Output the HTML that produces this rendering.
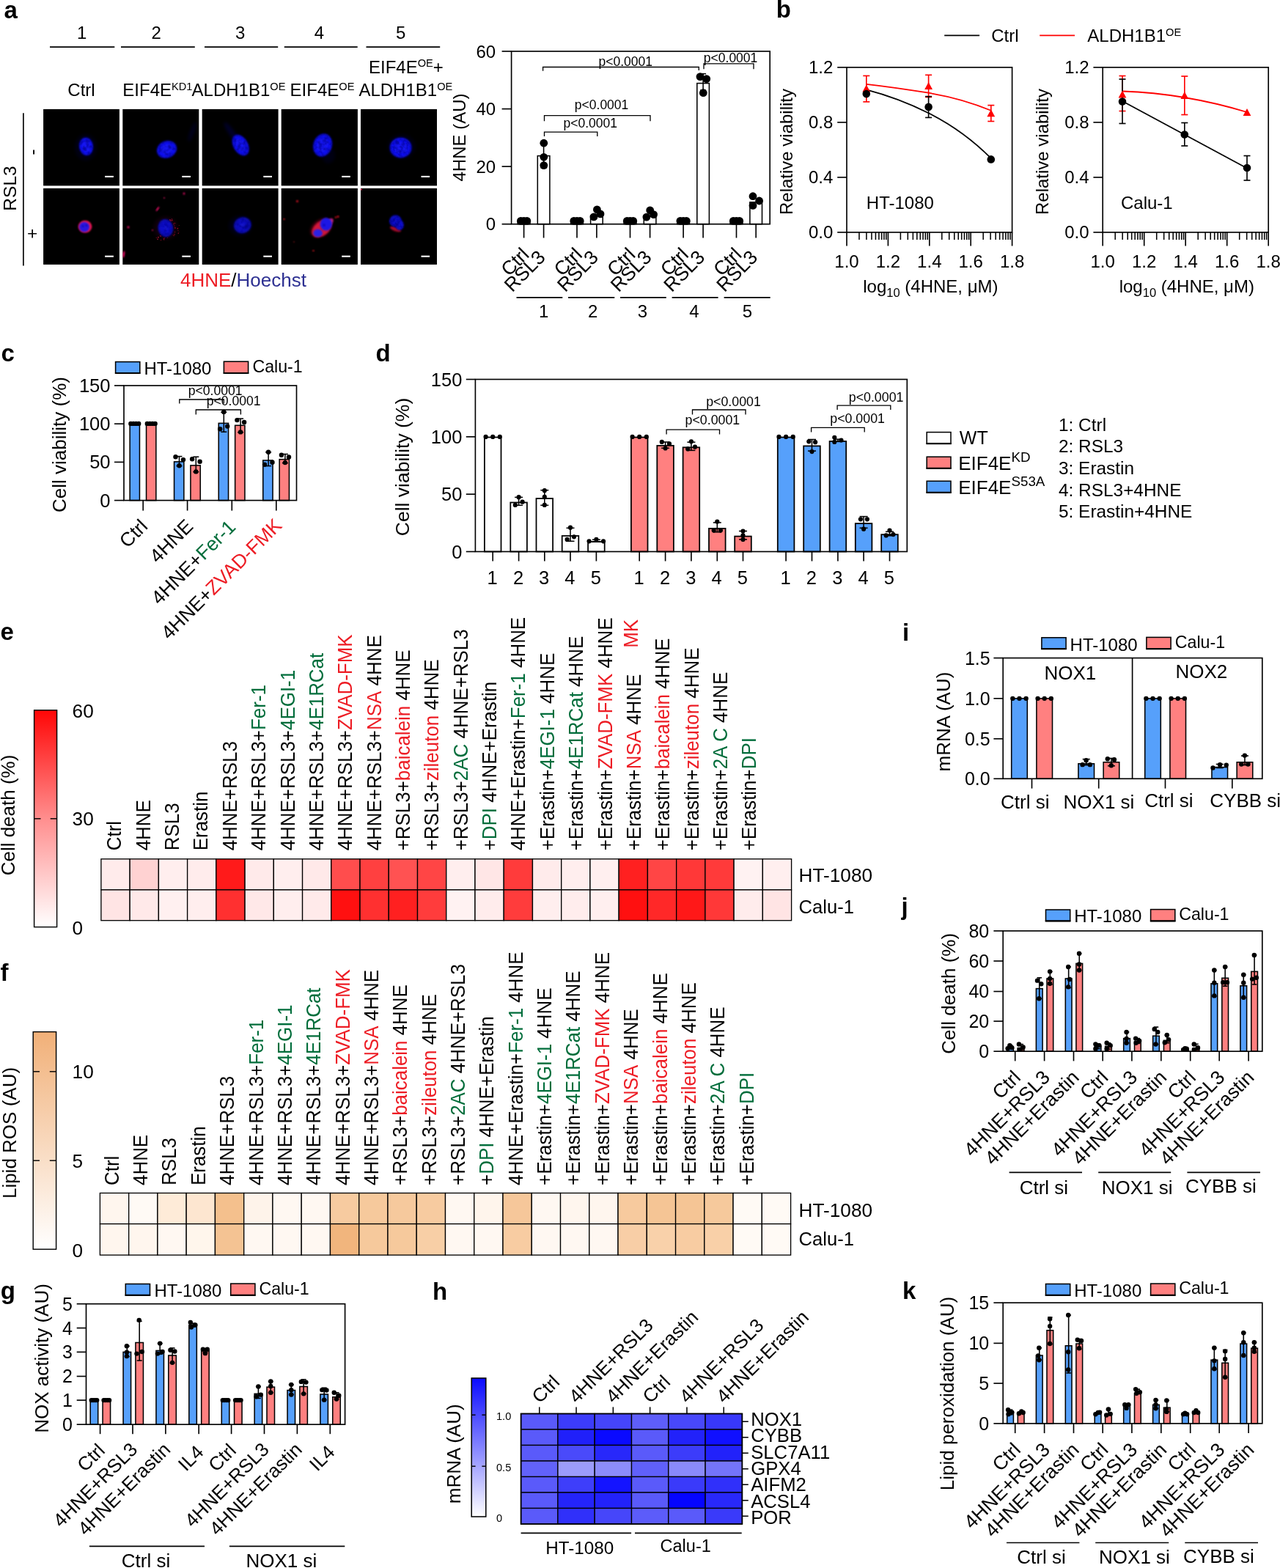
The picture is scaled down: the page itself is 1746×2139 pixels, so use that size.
<!DOCTYPE html>
<html lang="en"><head><meta charset="utf-8"><title>Figure</title>
<style>
html,body{margin:0;padding:0;background:#fff;}
body{width:1746px;height:2139px;overflow:hidden;}
svg{display:block;font-family:"Liberation Sans", sans-serif;}
text{font-family:"Liberation Sans", sans-serif;white-space:pre;}
</style></head><body>
<svg width="1746" height="2139" viewBox="0 0 1746 2139">
<rect x="0" y="0" width="1746" height="2139" fill="#fff"/>
<g id="pa">
<text x="5.5" y="24.6" font-size="33" font-weight="bold">a</text>
<text x="111.7" y="52.8" font-size="24" text-anchor="middle">1</text>
<text x="213.2" y="52.8" font-size="24" text-anchor="middle">2</text>
<text x="327.8" y="52.8" font-size="24" text-anchor="middle">3</text>
<text x="435.5" y="52.8" font-size="24" text-anchor="middle">4</text>
<text x="546.8" y="52.8" font-size="24" text-anchor="middle">5</text>
<line x1="68" y1="64.1" x2="156.3" y2="64.1" stroke="#000" stroke-width="1.87"/>
<line x1="165" y1="64.1" x2="265.8" y2="64.1" stroke="#000" stroke-width="1.87"/>
<line x1="279" y1="64.1" x2="379.2" y2="64.1" stroke="#000" stroke-width="1.87"/>
<line x1="387.8" y1="64.1" x2="487.7" y2="64.1" stroke="#000" stroke-width="1.87"/>
<line x1="499.5" y1="64.1" x2="600.2" y2="64.1" stroke="#000" stroke-width="1.87"/>
<text x="111" y="131.2" font-size="24" text-anchor="middle">Ctrl</text>
<text x="167.3" y="131.2" font-size="24">EIF4E<tspan font-size="14.6" dy="-8.3">KD1</tspan><tspan dy="8.3" font-size="1">&#8203;</tspan></text>
<text x="261.6" y="131.2" font-size="24">ALDH1B1<tspan font-size="14.6" dy="-8.3">OE</tspan><tspan dy="8.3" font-size="1">&#8203;</tspan></text>
<text x="395.6" y="131.2" font-size="24">EIF4E<tspan font-size="14.6" dy="-8.3">OE</tspan><tspan dy="8.3" font-size="1">&#8203;</tspan></text>
<text x="503" y="99.6" font-size="24">EIF4E<tspan font-size="14.6" dy="-8.3">OE</tspan><tspan dy="8.3" font-size="1">&#8203;</tspan>+</text>
<text x="489.4" y="131.2" font-size="24">ALDH1B1<tspan font-size="14.6" dy="-8.3">OE</tspan><tspan dy="8.3" font-size="1">&#8203;</tspan></text>
<text font-size="24.5" text-anchor="middle" transform="translate(21.6 257) rotate(-90)">RSL3</text>
<line x1="31.9" y1="154.3" x2="31.9" y2="362.4" stroke="#000" stroke-width="1.65"/>
<text font-size="24" text-anchor="middle" transform="translate(51.5 207.5) rotate(-90)">-</text>
<text font-size="24" text-anchor="middle" transform="translate(52.3 318.7) rotate(-90)">+</text>
<text x="246" y="390.5" font-size="26"><tspan fill="#ED1C24">4HNE</tspan>/<tspan fill="#2E3192">Hoechst</tspan></text>
<defs><radialGradient id="nb" cx="50%" cy="50%" r="50%"><stop offset="0" stop-color="#1616f4"/><stop offset="0.8" stop-color="#1010ec"/><stop offset="1" stop-color="#0808c0"/></radialGradient><radialGradient id="nd" cx="50%" cy="50%" r="50%"><stop offset="0" stop-color="#1414d4"/><stop offset="0.8" stop-color="#0c0cc0"/><stop offset="1" stop-color="#060690"/></radialGradient><radialGradient id="rc" cx="50%" cy="50%" r="50%"><stop offset="0" stop-color="#ff1040"/><stop offset="0.7" stop-color="#e0103a" stop-opacity="0.9"/><stop offset="1" stop-color="#a00020" stop-opacity="0"/></radialGradient><filter id="bl" x="-30%" y="-30%" width="160%" height="160%"><feGaussianBlur stdDeviation="0.9"/></filter><filter id="bl2" x="-50%" y="-50%" width="200%" height="200%"><feGaussianBlur stdDeviation="2.2"/></filter><filter id="tx" x="0" y="0" width="100%" height="100%"><feTurbulence type="fractalNoise" baseFrequency="0.22" numOctaves="2" seed="7" result="n"/><feColorMatrix in="n" type="matrix" values="0 0 0 0 0  0 0 0 0 0  0 0 0 0 0.25  2.6 0 0 0 -1.0" result="a"/><feComposite in="a" in2="SourceGraphic" operator="in"/><feGaussianBlur stdDeviation="0.5"/></filter></defs>
<rect x="59.1" y="148.9" width="103.8" height="104.5" fill="#000"/>
<rect x="167.3" y="148.9" width="104" height="104.5" fill="#000"/>
<rect x="275.7" y="148.9" width="103.9" height="104.5" fill="#000"/>
<rect x="383.7" y="148.9" width="104.2" height="104.5" fill="#000"/>
<rect x="492" y="148.9" width="104" height="104.5" fill="#000"/>
<rect x="59.1" y="256.9" width="103.8" height="104" fill="#000"/>
<rect x="167.3" y="256.9" width="104" height="104" fill="#000"/>
<rect x="275.7" y="256.9" width="103.9" height="104" fill="#000"/>
<rect x="383.7" y="256.9" width="104.2" height="104" fill="#000"/>
<rect x="492" y="256.9" width="104" height="104" fill="#000"/>
<clipPath id="c00"><rect x="59.1" y="148.9" width="103.8" height="104.5"/></clipPath>
<clipPath id="c01"><rect x="59.1" y="256.9" width="103.8" height="104"/></clipPath>
<clipPath id="c10"><rect x="167.3" y="148.9" width="104" height="104.5"/></clipPath>
<clipPath id="c11"><rect x="167.3" y="256.9" width="104" height="104"/></clipPath>
<clipPath id="c20"><rect x="275.7" y="148.9" width="103.9" height="104.5"/></clipPath>
<clipPath id="c21"><rect x="275.7" y="256.9" width="103.9" height="104"/></clipPath>
<clipPath id="c30"><rect x="383.7" y="148.9" width="104.2" height="104.5"/></clipPath>
<clipPath id="c31"><rect x="383.7" y="256.9" width="104.2" height="104"/></clipPath>
<clipPath id="c40"><rect x="492" y="148.9" width="104" height="104.5"/></clipPath>
<clipPath id="c41"><rect x="492" y="256.9" width="104" height="104"/></clipPath>
<g clip-path="url(#c00)">
<ellipse cx="117" cy="201" rx="15" ry="18" fill="#000090" opacity="0.13" filter="url(#bl2)" transform="rotate(0 117 201)"/>
<ellipse cx="117.5" cy="199.7" rx="9.6" ry="12.3" fill="url(#nb)" opacity="1" filter="url(#bl)" transform="rotate(-8 117.5 199.7)"/>
<ellipse cx="117.5" cy="199.7" rx="9.1" ry="11.8" fill="#000" opacity="0.55" filter="url(#tx)" transform="rotate(-8 117.5 199.7)"/>
<circle cx="115" cy="203" r="2" fill="#000090" opacity="0.6" filter="url(#bl)"/>
<circle cx="120" cy="197" r="1.6" fill="#000090" opacity="0.6" filter="url(#bl)"/>
</g>
<g clip-path="url(#c10)">
<ellipse cx="262" cy="180" rx="3" ry="14" fill="#000080" opacity="0.22" filter="url(#bl2)" transform="rotate(20 262 180)"/>
<ellipse cx="227.5" cy="203.9" rx="14" ry="11.6" fill="url(#nb)" opacity="1" filter="url(#bl)" transform="rotate(-22 227.5 203.9)"/>
<ellipse cx="227.5" cy="203.9" rx="13.5" ry="11.1" fill="#000" opacity="0.55" filter="url(#tx)" transform="rotate(-22 227.5 203.9)"/>
<circle cx="232" cy="201" r="2.2" fill="#000090" opacity="0.6" filter="url(#bl)"/>
</g>
<g clip-path="url(#c20)">
<ellipse cx="316" cy="181" rx="4" ry="17" fill="#000090" opacity="0.28" filter="url(#bl2)" transform="rotate(-35 316 181)"/>
<ellipse cx="328.2" cy="198" rx="10" ry="15.5" fill="url(#nb)" opacity="1" filter="url(#bl)" transform="rotate(-30 328.2 198)"/>
<ellipse cx="328.2" cy="198" rx="9.5" ry="15" fill="#000" opacity="0.55" filter="url(#tx)" transform="rotate(-30 328.2 198)"/>
<circle cx="326" cy="200" r="2.2" fill="#000090" opacity="0.6" filter="url(#bl)"/>
<circle cx="331" cy="202.5" r="2" fill="#000090" opacity="0.6" filter="url(#bl)"/>
</g>
<g clip-path="url(#c30)">
<ellipse cx="448" cy="212" rx="9" ry="11" fill="#000080" opacity="0.14" filter="url(#bl2)" transform="rotate(0 448 212)"/>
<ellipse cx="440.1" cy="198" rx="12.8" ry="16" fill="url(#nb)" opacity="1" filter="url(#bl)" transform="rotate(18 440.1 198)"/>
<ellipse cx="440.1" cy="198" rx="12.3" ry="15.5" fill="#000" opacity="0.55" filter="url(#tx)" transform="rotate(18 440.1 198)"/>
<circle cx="442" cy="192" r="2.2" fill="#000090" opacity="0.6" filter="url(#bl)"/>
<circle cx="437" cy="197" r="1.8" fill="#000090" opacity="0.6" filter="url(#bl)"/>
</g>
<g clip-path="url(#c40)">
<ellipse cx="548" cy="200" rx="19" ry="17" fill="#000080" opacity="0.13" filter="url(#bl2)" transform="rotate(0 548 200)"/>
<ellipse cx="546.6" cy="201.4" rx="15" ry="14" fill="url(#nb)" opacity="1" filter="url(#bl)" transform="rotate(0 546.6 201.4)"/>
<ellipse cx="546.6" cy="201.4" rx="14.5" ry="13.5" fill="#000" opacity="0.55" filter="url(#tx)" transform="rotate(0 546.6 201.4)"/>
<circle cx="541" cy="195" r="2.4" fill="#000090" opacity="0.6" filter="url(#bl)"/>
<circle cx="550" cy="197" r="2.4" fill="#000090" opacity="0.6" filter="url(#bl)"/>
<circle cx="546" cy="207" r="2" fill="#000090" opacity="0.6" filter="url(#bl)"/>
</g>
<g clip-path="url(#c01)">
<ellipse cx="116" cy="309.2" rx="9.3" ry="8.4" fill="#f01850" filter="url(#bl)"/>
<ellipse cx="115" cy="309.6" rx="7.2" ry="6.9" fill="#2a14e0" filter="url(#bl)"/>
<circle cx="113" cy="308.5" r="1.3" fill="#000090" opacity="0.7" filter="url(#bl)"/>
<circle cx="118" cy="307.5" r="1.3" fill="#000090" opacity="0.7" filter="url(#bl)"/>
</g>
<g clip-path="url(#c11)">
<ellipse cx="226" cy="311" rx="17" ry="16" fill="#300020" opacity="0.3" filter="url(#bl2)" transform="rotate(0 226 311)"/>
<ellipse cx="225.8" cy="311.1" rx="10.4" ry="12.3" fill="url(#nd)" opacity="1" filter="url(#bl)" transform="rotate(-10 225.8 311.1)"/>
<ellipse cx="225.8" cy="311.1" rx="9.9" ry="11.8" fill="#000" opacity="0.55" filter="url(#tx)" transform="rotate(-10 225.8 311.1)"/>
<circle cx="226" cy="306" r="1.8" fill="#000090" opacity="0.6" filter="url(#bl)"/>
<circle cx="232" cy="315" r="1.8" fill="#000090" opacity="0.6" filter="url(#bl)"/>
<circle cx="238.2" cy="308.37" r="0.7" fill="#d01038" opacity="0.37"/>
<circle cx="234.65" cy="300.55" r="0.96" fill="#d01038" opacity="0.66"/>
<circle cx="224.15" cy="324.82" r="0.77" fill="#d01038" opacity="0.42"/>
<circle cx="236.95" cy="305.69" r="0.61" fill="#d01038" opacity="0.72"/>
<circle cx="219.49" cy="327.55" r="0.9" fill="#d01038" opacity="0.39"/>
<circle cx="242.35" cy="311.65" r="0.87" fill="#d01038" opacity="0.68"/>
<circle cx="219.13" cy="322.13" r="0.8" fill="#d01038" opacity="0.6"/>
<circle cx="235.97" cy="320.37" r="0.74" fill="#d01038" opacity="0.34"/>
<circle cx="213.35" cy="324.17" r="0.77" fill="#d01038" opacity="0.44"/>
<circle cx="215.91" cy="323.81" r="0.94" fill="#d01038" opacity="0.68"/>
<circle cx="237.09" cy="321.48" r="0.8" fill="#d01038" opacity="0.49"/>
<circle cx="237.79" cy="304.53" r="0.91" fill="#d01038" opacity="0.32"/>
<circle cx="234.5" cy="298.7" r="0.64" fill="#d01038" opacity="0.54"/>
<circle cx="237.97" cy="319.65" r="1" fill="#d01038" opacity="0.39"/>
<circle cx="238.55" cy="316.62" r="0.82" fill="#d01038" opacity="0.42"/>
<circle cx="242.97" cy="314.48" r="0.66" fill="#d01038" opacity="0.55"/>
<circle cx="218.12" cy="321.56" r="0.53" fill="#d01038" opacity="0.4"/>
<circle cx="223.78" cy="327.36" r="0.62" fill="#d01038" opacity="0.45"/>
<circle cx="239.16" cy="304.74" r="0.52" fill="#d01038" opacity="0.61"/>
<circle cx="214.99" cy="326.27" r="0.87" fill="#d01038" opacity="0.73"/>
<circle cx="231.98" cy="299.9" r="0.98" fill="#d01038" opacity="0.65"/>
<circle cx="243.33" cy="318.2" r="0.81" fill="#d01038" opacity="0.67"/>
<circle cx="239.33" cy="310.92" r="0.72" fill="#d01038" opacity="0.36"/>
<circle cx="244.06" cy="316.4" r="0.67" fill="#d01038" opacity="0.3"/>
<circle cx="232.81" cy="301.2" r="0.89" fill="#d01038" opacity="0.46"/>
<circle cx="238.68" cy="310.83" r="0.99" fill="#d01038" opacity="0.49"/>
<circle cx="237.45" cy="307.26" r="0.53" fill="#d01038" opacity="0.38"/>
<circle cx="228.59" cy="324.23" r="0.52" fill="#d01038" opacity="0.52"/>
<circle cx="244.28" cy="307.49" r="0.56" fill="#d01038" opacity="0.54"/>
<circle cx="223.49" cy="325.96" r="0.99" fill="#d01038" opacity="0.51"/>
<ellipse cx="175" cy="310" rx="1.6" ry="1.4" fill="#ff1070" opacity="0.9" filter="url(#bl)" transform="rotate(0 175 310)"/>
<ellipse cx="215" cy="285" rx="1.2" ry="3.5" fill="#ff1070" opacity="0.9" filter="url(#bl)" transform="rotate(35 215 285)"/>
<ellipse cx="251" cy="264" rx="1.3" ry="1.5" fill="#ff1070" opacity="0.9" filter="url(#bl)" transform="rotate(0 251 264)"/>
<ellipse cx="224" cy="270" rx="1" ry="1" fill="#ff1070" opacity="0.9" filter="url(#bl)" transform="rotate(0 224 270)"/>
<ellipse cx="168.5" cy="347" rx="1.6" ry="4.5" fill="#ff1070" opacity="0.9" filter="url(#bl)" transform="rotate(10 168.5 347)"/>
<ellipse cx="208" cy="314" rx="1" ry="1" fill="#ff1070" opacity="0.9" filter="url(#bl)" transform="rotate(0 208 314)"/>
</g>
<g clip-path="url(#c21)">
<ellipse cx="328" cy="308" rx="16" ry="14" fill="#000070" opacity="0.16" filter="url(#bl2)" transform="rotate(0 328 308)"/>
<ellipse cx="330.8" cy="307.3" rx="12.2" ry="11" fill="url(#nd)" opacity="0.95" filter="url(#bl)" transform="rotate(-20 330.8 307.3)"/>
<ellipse cx="330.8" cy="307.3" rx="11.7" ry="10.5" fill="#000" opacity="0.55" filter="url(#tx)" transform="rotate(-20 330.8 307.3)"/>
<circle cx="336" cy="309" r="2.6" fill="#000070" opacity="0.6" filter="url(#bl)"/>
</g>
<g clip-path="url(#c31)">
<ellipse cx="438" cy="311" rx="15" ry="10" fill="#e00030" opacity="0.6" filter="url(#bl2)" transform="rotate(-35 438 311)"/>
<ellipse cx="438.8" cy="311.8" rx="15" ry="9.6" fill="#e01c40" opacity="0.85" filter="url(#bl)" transform="rotate(-38 438.8 311.8)"/>
<ellipse cx="450" cy="303" rx="6" ry="3.5" fill="#ff30a0" opacity="0.8" filter="url(#bl)" transform="rotate(-50 450 303)"/>
<ellipse cx="444.8" cy="305.8" rx="8.2" ry="8.8" fill="#1c18e4" filter="url(#bl)"/>
<ellipse cx="433.6" cy="317.9" rx="6.3" ry="5.3" fill="#2c20e4" filter="url(#bl)"/>
<circle cx="442" cy="307" r="1.6" fill="#0000a0" opacity="0.7" filter="url(#bl)"/>
<circle cx="405.5" cy="274.5" r="1.6" fill="#e01020" opacity="0.9" filter="url(#bl)"/>
<circle cx="461" cy="295.5" r="1.5" fill="#e01020" opacity="0.9" filter="url(#bl)"/>
<circle cx="387.5" cy="299" r="1.2" fill="#e01020" opacity="0.9" filter="url(#bl)"/>
<circle cx="427.5" cy="342" r="1.2" fill="#e01020" opacity="0.9" filter="url(#bl)"/>
<circle cx="458" cy="296.5" r="1.3" fill="#e01020" opacity="0.9" filter="url(#bl)"/>
<circle cx="401" cy="330" r="0.8" fill="#e01020" opacity="0.9" filter="url(#bl)"/>
</g>
<g clip-path="url(#c41)">
<ellipse cx="539.5" cy="312.5" rx="8" ry="3" fill="#d01030" opacity="0.8" filter="url(#bl)" transform="rotate(20 539.5 312.5)"/>
<ellipse cx="539.5" cy="301.5" rx="8.6" ry="8.3" fill="url(#nd)" opacity="1" filter="url(#bl)" transform="rotate(0 539.5 301.5)"/>
<ellipse cx="539.5" cy="301.5" rx="8.1" ry="7.8" fill="#000" opacity="0.55" filter="url(#tx)" transform="rotate(0 539.5 301.5)"/>
<ellipse cx="545" cy="307" rx="6" ry="7" fill="url(#nd)" opacity="1" filter="url(#bl)" transform="rotate(0 545 307)"/>
<ellipse cx="545" cy="307" rx="5.5" ry="6.5" fill="#000" opacity="0.55" filter="url(#tx)" transform="rotate(0 545 307)"/>
<circle cx="542" cy="306.5" r="2.3" fill="#000080" opacity="0.6" filter="url(#bl)"/>
<circle cx="537" cy="300" r="1.5" fill="#000080" opacity="0.6" filter="url(#bl)"/>
<circle cx="493" cy="258.5" r="1" fill="#ff1060"/>
</g>
<line x1="143.1" y1="240.9" x2="154.9" y2="240.9" stroke="#fff" stroke-width="2.09"/>
<line x1="143.1" y1="349.7" x2="154.9" y2="349.7" stroke="#fff" stroke-width="2.09"/>
<line x1="248.3" y1="240.9" x2="260" y2="240.9" stroke="#fff" stroke-width="2.09"/>
<line x1="248.3" y1="349.7" x2="260" y2="349.7" stroke="#fff" stroke-width="2.09"/>
<line x1="359.3" y1="240.9" x2="371" y2="240.9" stroke="#fff" stroke-width="2.09"/>
<line x1="359.3" y1="349.7" x2="371" y2="349.7" stroke="#fff" stroke-width="2.09"/>
<line x1="466.2" y1="240.9" x2="477.8" y2="240.9" stroke="#fff" stroke-width="2.09"/>
<line x1="466.2" y1="349.7" x2="477.8" y2="349.7" stroke="#fff" stroke-width="2.09"/>
<line x1="574.5" y1="240.9" x2="586.1" y2="240.9" stroke="#fff" stroke-width="2.09"/>
<line x1="574.5" y1="349.7" x2="586.1" y2="349.7" stroke="#fff" stroke-width="2.09"/>
</g>
<g id="pabar">
<rect x="706.3" y="301.77" width="16.6" height="3.93" fill="#fff" stroke="#000" stroke-width="1.54"/>
<rect x="733.3" y="212.6" width="16.6" height="93.1" fill="#fff" stroke="#000" stroke-width="1.54"/>
<rect x="778.7" y="301.77" width="16.6" height="3.93" fill="#fff" stroke="#000" stroke-width="1.54"/>
<rect x="805.6" y="294.31" width="16.6" height="11.39" fill="#fff" stroke="#000" stroke-width="1.54"/>
<rect x="851.2" y="301.77" width="16.6" height="3.93" fill="#fff" stroke="#000" stroke-width="1.54"/>
<rect x="878.3" y="295.09" width="16.6" height="10.61" fill="#fff" stroke="#000" stroke-width="1.54"/>
<rect x="923.8" y="301.77" width="16.6" height="3.93" fill="#fff" stroke="#000" stroke-width="1.54"/>
<rect x="950.8" y="113.6" width="16.6" height="192.1" fill="#fff" stroke="#000" stroke-width="1.54"/>
<rect x="996.2" y="301.77" width="16.6" height="3.93" fill="#fff" stroke="#000" stroke-width="1.54"/>
<rect x="1022.9" y="275.84" width="16.6" height="29.86" fill="#fff" stroke="#000" stroke-width="1.54"/>
<rect x="697.6" y="70" width="352.6" height="235.7" fill="none" stroke="#000" stroke-width="1.65"/>
<line x1="741.6" y1="196.49" x2="741.6" y2="229.1" stroke="#000" stroke-width="1.54"/>
<line x1="737.6" y1="196.49" x2="745.6" y2="196.49" stroke="#000" stroke-width="1.54"/>
<line x1="737.6" y1="229.1" x2="745.6" y2="229.1" stroke="#000" stroke-width="1.54"/>
<line x1="959.1" y1="100.64" x2="959.1" y2="123.03" stroke="#000" stroke-width="1.54"/>
<line x1="955.1" y1="100.64" x2="963.1" y2="100.64" stroke="#000" stroke-width="1.54"/>
<line x1="955.1" y1="123.03" x2="963.1" y2="123.03" stroke="#000" stroke-width="1.54"/>
<line x1="684.6" y1="305.7" x2="697.6" y2="305.7" stroke="#000" stroke-width="1.65"/>
<text x="676.1" y="314.3" font-size="24" text-anchor="end">0</text>
<line x1="684.6" y1="227.13" x2="697.6" y2="227.13" stroke="#000" stroke-width="1.65"/>
<text x="676.1" y="235.73" font-size="24" text-anchor="end">20</text>
<line x1="684.6" y1="148.57" x2="697.6" y2="148.57" stroke="#000" stroke-width="1.65"/>
<text x="676.1" y="157.17" font-size="24" text-anchor="end">40</text>
<line x1="684.6" y1="70" x2="697.6" y2="70" stroke="#000" stroke-width="1.65"/>
<text x="676.1" y="78.6" font-size="24" text-anchor="end">60</text>
<line x1="714.6" y1="305.7" x2="714.6" y2="324.5" stroke="#000" stroke-width="1.65"/>
<line x1="741.6" y1="305.7" x2="741.6" y2="324.5" stroke="#000" stroke-width="1.65"/>
<line x1="787" y1="305.7" x2="787" y2="324.5" stroke="#000" stroke-width="1.65"/>
<line x1="813.9" y1="305.7" x2="813.9" y2="324.5" stroke="#000" stroke-width="1.65"/>
<line x1="859.5" y1="305.7" x2="859.5" y2="324.5" stroke="#000" stroke-width="1.65"/>
<line x1="886.6" y1="305.7" x2="886.6" y2="324.5" stroke="#000" stroke-width="1.65"/>
<line x1="932.1" y1="305.7" x2="932.1" y2="324.5" stroke="#000" stroke-width="1.65"/>
<line x1="959.1" y1="305.7" x2="959.1" y2="324.5" stroke="#000" stroke-width="1.65"/>
<line x1="1004.5" y1="305.7" x2="1004.5" y2="324.5" stroke="#000" stroke-width="1.65"/>
<line x1="1031.2" y1="305.7" x2="1031.2" y2="324.5" stroke="#000" stroke-width="1.65"/>
<circle cx="710.4" cy="301.4" r="5.4" fill="#000"/>
<circle cx="714.6" cy="301.4" r="5.4" fill="#000"/>
<circle cx="718.8" cy="301.4" r="5.4" fill="#000"/>
<circle cx="782.8" cy="301.4" r="5.4" fill="#000"/>
<circle cx="787" cy="301.4" r="5.4" fill="#000"/>
<circle cx="791.2" cy="301.4" r="5.4" fill="#000"/>
<circle cx="855.3" cy="301.4" r="5.4" fill="#000"/>
<circle cx="859.5" cy="301.4" r="5.4" fill="#000"/>
<circle cx="863.7" cy="301.4" r="5.4" fill="#000"/>
<circle cx="927.9" cy="301.4" r="5.4" fill="#000"/>
<circle cx="932.1" cy="301.4" r="5.4" fill="#000"/>
<circle cx="936.3" cy="301.4" r="5.4" fill="#000"/>
<circle cx="1000.3" cy="301.4" r="5.4" fill="#000"/>
<circle cx="1004.5" cy="301.4" r="5.4" fill="#000"/>
<circle cx="1008.7" cy="301.4" r="5.4" fill="#000"/>
<circle cx="741.8" cy="195.2" r="5.4" fill="#000"/>
<circle cx="741.8" cy="214.3" r="5.4" fill="#000"/>
<circle cx="741.8" cy="225.6" r="5.4" fill="#000"/>
<circle cx="810" cy="295.9" r="5.4" fill="#000"/>
<circle cx="814.4" cy="285.9" r="5.4" fill="#000"/>
<circle cx="819" cy="291.9" r="5.4" fill="#000"/>
<circle cx="881.9" cy="296.1" r="5.4" fill="#000"/>
<circle cx="886.7" cy="286.9" r="5.4" fill="#000"/>
<circle cx="891.6" cy="292.6" r="5.4" fill="#000"/>
<circle cx="955" cy="104.6" r="5.4" fill="#000"/>
<circle cx="963.7" cy="107.6" r="5.4" fill="#000"/>
<circle cx="959.3" cy="126.7" r="5.4" fill="#000"/>
<circle cx="1027" cy="267.7" r="5.4" fill="#000"/>
<circle cx="1035.6" cy="274" r="5.4" fill="#000"/>
<circle cx="1027" cy="280.4" r="5.4" fill="#000"/>
<path d="M740.6 96.7V91.5H953.3V96.1" stroke="#000" stroke-width="1.32" fill="none"/>
<text x="853.2" y="90.3" font-size="17.5" text-anchor="middle">p&lt;0.0001</text>
<path d="M960 94.3V86.9H1028V94.3" stroke="#000" stroke-width="1.32" fill="none"/>
<text x="996.6" y="85" font-size="17.5" text-anchor="middle">p&lt;0.0001</text>
<path d="M742.5 165.2V157.6H887V165.2" stroke="#000" stroke-width="1.32" fill="none"/>
<text x="820.6" y="149.1" font-size="17.5" text-anchor="middle">p&lt;0.0001</text>
<path d="M742.5 186V180.2H814.8V186" stroke="#000" stroke-width="1.32" fill="none"/>
<text x="805.3" y="174.4" font-size="17.5" text-anchor="middle">p&lt;0.0001</text>
<text font-size="24" text-anchor="middle" transform="translate(634.6 187.5) rotate(-90)">4HNE (AU)</text>
<text font-size="26.4" text-anchor="end" transform="translate(723.2 349) rotate(-45)">Ctrl</text>
<text font-size="26.4" text-anchor="end" transform="translate(745.4 352.7) rotate(-45)">RSL3</text>
<text font-size="26.4" text-anchor="end" transform="translate(795.6 349) rotate(-45)">Ctrl</text>
<text font-size="26.4" text-anchor="end" transform="translate(817.7 352.7) rotate(-45)">RSL3</text>
<text font-size="26.4" text-anchor="end" transform="translate(868.1 349) rotate(-45)">Ctrl</text>
<text font-size="26.4" text-anchor="end" transform="translate(890.4 352.7) rotate(-45)">RSL3</text>
<text font-size="26.4" text-anchor="end" transform="translate(940.7 349) rotate(-45)">Ctrl</text>
<text font-size="26.4" text-anchor="end" transform="translate(962.9 352.7) rotate(-45)">RSL3</text>
<text font-size="26.4" text-anchor="end" transform="translate(1013.1 349) rotate(-45)">Ctrl</text>
<text font-size="26.4" text-anchor="end" transform="translate(1035 352.7) rotate(-45)">RSL3</text>
<line x1="704.5" y1="405.9" x2="767.3" y2="405.9" stroke="#000" stroke-width="1.65"/>
<line x1="775" y1="405.9" x2="838.3" y2="405.9" stroke="#000" stroke-width="1.65"/>
<line x1="846" y1="405.9" x2="908.8" y2="405.9" stroke="#000" stroke-width="1.65"/>
<line x1="916.6" y1="405.9" x2="979.6" y2="405.9" stroke="#000" stroke-width="1.65"/>
<line x1="987.6" y1="405.9" x2="1050.7" y2="405.9" stroke="#000" stroke-width="1.65"/>
<text x="741.6" y="432.7" font-size="24" text-anchor="middle">1</text>
<text x="808.7" y="432.7" font-size="24" text-anchor="middle">2</text>
<text x="876.5" y="432.7" font-size="24" text-anchor="middle">3</text>
<text x="947" y="432.7" font-size="24" text-anchor="middle">4</text>
<text x="1019.4" y="432.7" font-size="24" text-anchor="middle">5</text>
</g>
<g id="pb">
<text x="1058.8" y="24.3" font-size="33" font-weight="bold">b</text>
<line x1="1288.2" y1="48.4" x2="1336.1" y2="48.4" stroke="#000" stroke-width="1.65"/>
<text x="1352.2" y="57.4" font-size="24">Ctrl</text>
<line x1="1418.2" y1="48.4" x2="1466" y2="48.4" stroke="#FF0000" stroke-width="1.65"/>
<text x="1483.3" y="57.4" font-size="24">ALDH1B1<tspan font-size="14.6" dy="-8.3">OE</tspan><tspan dy="8.3" font-size="1">&#8203;</tspan></text>
<line x1="1142.2" y1="316.9" x2="1155" y2="316.9" stroke="#000" stroke-width="1.65"/>
<text x="1136.4" y="324.5" font-size="24" text-anchor="end">0.0</text>
<line x1="1142.2" y1="241.9" x2="1155" y2="241.9" stroke="#000" stroke-width="1.65"/>
<text x="1136.4" y="249.5" font-size="24" text-anchor="end">0.4</text>
<line x1="1142.2" y1="166.9" x2="1155" y2="166.9" stroke="#000" stroke-width="1.65"/>
<text x="1136.4" y="174.5" font-size="24" text-anchor="end">0.8</text>
<line x1="1142.2" y1="91.9" x2="1155" y2="91.9" stroke="#000" stroke-width="1.65"/>
<text x="1136.4" y="99.5" font-size="24" text-anchor="end">1.2</text>
<line x1="1155" y1="316.9" x2="1155" y2="335.5" stroke="#000" stroke-width="1.65"/>
<line x1="1171.98" y1="316.9" x2="1171.98" y2="327.1" stroke="#000" stroke-width="1.54"/>
<line x1="1181.91" y1="316.9" x2="1181.91" y2="327.1" stroke="#000" stroke-width="1.54"/>
<line x1="1188.96" y1="316.9" x2="1188.96" y2="327.1" stroke="#000" stroke-width="1.54"/>
<line x1="1194.42" y1="316.9" x2="1194.42" y2="327.1" stroke="#000" stroke-width="1.54"/>
<line x1="1198.89" y1="316.9" x2="1198.89" y2="327.1" stroke="#000" stroke-width="1.54"/>
<line x1="1202.66" y1="316.9" x2="1202.66" y2="327.1" stroke="#000" stroke-width="1.54"/>
<line x1="1205.93" y1="316.9" x2="1205.93" y2="327.1" stroke="#000" stroke-width="1.54"/>
<line x1="1208.82" y1="316.9" x2="1208.82" y2="327.1" stroke="#000" stroke-width="1.54"/>
<line x1="1211.4" y1="316.9" x2="1211.4" y2="335.5" stroke="#000" stroke-width="1.65"/>
<line x1="1228.38" y1="316.9" x2="1228.38" y2="327.1" stroke="#000" stroke-width="1.54"/>
<line x1="1238.31" y1="316.9" x2="1238.31" y2="327.1" stroke="#000" stroke-width="1.54"/>
<line x1="1245.36" y1="316.9" x2="1245.36" y2="327.1" stroke="#000" stroke-width="1.54"/>
<line x1="1250.82" y1="316.9" x2="1250.82" y2="327.1" stroke="#000" stroke-width="1.54"/>
<line x1="1255.29" y1="316.9" x2="1255.29" y2="327.1" stroke="#000" stroke-width="1.54"/>
<line x1="1259.06" y1="316.9" x2="1259.06" y2="327.1" stroke="#000" stroke-width="1.54"/>
<line x1="1262.33" y1="316.9" x2="1262.33" y2="327.1" stroke="#000" stroke-width="1.54"/>
<line x1="1265.22" y1="316.9" x2="1265.22" y2="327.1" stroke="#000" stroke-width="1.54"/>
<line x1="1267.8" y1="316.9" x2="1267.8" y2="335.5" stroke="#000" stroke-width="1.65"/>
<line x1="1284.78" y1="316.9" x2="1284.78" y2="327.1" stroke="#000" stroke-width="1.54"/>
<line x1="1294.71" y1="316.9" x2="1294.71" y2="327.1" stroke="#000" stroke-width="1.54"/>
<line x1="1301.76" y1="316.9" x2="1301.76" y2="327.1" stroke="#000" stroke-width="1.54"/>
<line x1="1307.22" y1="316.9" x2="1307.22" y2="327.1" stroke="#000" stroke-width="1.54"/>
<line x1="1311.69" y1="316.9" x2="1311.69" y2="327.1" stroke="#000" stroke-width="1.54"/>
<line x1="1315.46" y1="316.9" x2="1315.46" y2="327.1" stroke="#000" stroke-width="1.54"/>
<line x1="1318.73" y1="316.9" x2="1318.73" y2="327.1" stroke="#000" stroke-width="1.54"/>
<line x1="1321.62" y1="316.9" x2="1321.62" y2="327.1" stroke="#000" stroke-width="1.54"/>
<line x1="1324.2" y1="316.9" x2="1324.2" y2="335.5" stroke="#000" stroke-width="1.65"/>
<line x1="1341.18" y1="316.9" x2="1341.18" y2="327.1" stroke="#000" stroke-width="1.54"/>
<line x1="1351.11" y1="316.9" x2="1351.11" y2="327.1" stroke="#000" stroke-width="1.54"/>
<line x1="1358.16" y1="316.9" x2="1358.16" y2="327.1" stroke="#000" stroke-width="1.54"/>
<line x1="1363.62" y1="316.9" x2="1363.62" y2="327.1" stroke="#000" stroke-width="1.54"/>
<line x1="1368.09" y1="316.9" x2="1368.09" y2="327.1" stroke="#000" stroke-width="1.54"/>
<line x1="1371.86" y1="316.9" x2="1371.86" y2="327.1" stroke="#000" stroke-width="1.54"/>
<line x1="1375.13" y1="316.9" x2="1375.13" y2="327.1" stroke="#000" stroke-width="1.54"/>
<line x1="1378.02" y1="316.9" x2="1378.02" y2="327.1" stroke="#000" stroke-width="1.54"/>
<line x1="1380.6" y1="316.9" x2="1380.6" y2="335.5" stroke="#000" stroke-width="1.65"/>
<text x="1155" y="364.5" font-size="24" text-anchor="middle">1.0</text>
<text x="1211.4" y="364.5" font-size="24" text-anchor="middle">1.2</text>
<text x="1267.8" y="364.5" font-size="24" text-anchor="middle">1.4</text>
<text x="1324.2" y="364.5" font-size="24" text-anchor="middle">1.6</text>
<text x="1380.6" y="364.5" font-size="24" text-anchor="middle">1.8</text>
<path d="M1181.8 114.8 C 1210 118, 1240 122.4, 1266.6 126.7 C 1296 131.6, 1326 140, 1351.8 150.8" stroke="#FF0000" stroke-width="1.76" fill="none"/>
<path d="M1181.8 122.4 C 1215 131, 1244 143, 1266.6 154.2 C 1298 170, 1328 192, 1351.8 215.9" stroke="#000" stroke-width="1.76" fill="none"/>
<line x1="1181.8" y1="103.4" x2="1181.8" y2="138.9" stroke="#FF0000" stroke-width="1.65"/>
<line x1="1177.3" y1="103.4" x2="1186.3" y2="103.4" stroke="#FF0000" stroke-width="1.65"/>
<line x1="1177.3" y1="138.9" x2="1186.3" y2="138.9" stroke="#FF0000" stroke-width="1.65"/>
<line x1="1266.6" y1="102.3" x2="1266.6" y2="132.5" stroke="#FF0000" stroke-width="1.65"/>
<line x1="1262.1" y1="102.3" x2="1271.1" y2="102.3" stroke="#FF0000" stroke-width="1.65"/>
<line x1="1262.1" y1="132.5" x2="1271.1" y2="132.5" stroke="#FF0000" stroke-width="1.65"/>
<line x1="1351.8" y1="143.6" x2="1351.8" y2="165.5" stroke="#FF0000" stroke-width="1.65"/>
<line x1="1347.3" y1="143.6" x2="1356.3" y2="143.6" stroke="#FF0000" stroke-width="1.65"/>
<line x1="1347.3" y1="165.5" x2="1356.3" y2="165.5" stroke="#FF0000" stroke-width="1.65"/>
<line x1="1266.6" y1="131.6" x2="1266.6" y2="160.4" stroke="#000" stroke-width="1.65"/>
<line x1="1262.1" y1="131.6" x2="1271.1" y2="131.6" stroke="#000" stroke-width="1.65"/>
<line x1="1262.1" y1="160.4" x2="1271.1" y2="160.4" stroke="#000" stroke-width="1.65"/>
<path d="M1176.4 125.5L1187.2 125.5L1181.8 115.5Z" fill="#FF0000"/>
<path d="M1261.2 121.9L1272 121.9L1266.6 111.9Z" fill="#FF0000"/>
<path d="M1346.4 159.3L1357.2 159.3L1351.8 149.3Z" fill="#FF0000"/>
<circle cx="1181.8" cy="128.1" r="5.3" fill="#000"/>
<circle cx="1266.6" cy="145.9" r="5.3" fill="#000"/>
<circle cx="1351.8" cy="217.4" r="5.3" fill="#000"/>
<rect x="1155" y="91.9" width="225.6" height="225" fill="none" stroke="#000" stroke-width="1.65"/>
<text x="1181.8" y="284.6" font-size="24">HT-1080</text>
<text x="1269.4" y="399.2" font-size="24" text-anchor="middle">log<tspan font-size="16.5" dy="5.5">10</tspan><tspan dy="-5.5"> (4HNE, μM)</tspan></text>
<text font-size="24" text-anchor="middle" transform="translate(1080.6 207) rotate(-90)">Relative viability</text>
<line x1="1491.4" y1="316.9" x2="1504.2" y2="316.9" stroke="#000" stroke-width="1.65"/>
<text x="1485.6" y="324.5" font-size="24" text-anchor="end">0.0</text>
<line x1="1491.4" y1="241.9" x2="1504.2" y2="241.9" stroke="#000" stroke-width="1.65"/>
<text x="1485.6" y="249.5" font-size="24" text-anchor="end">0.4</text>
<line x1="1491.4" y1="166.9" x2="1504.2" y2="166.9" stroke="#000" stroke-width="1.65"/>
<text x="1485.6" y="174.5" font-size="24" text-anchor="end">0.8</text>
<line x1="1491.4" y1="91.9" x2="1504.2" y2="91.9" stroke="#000" stroke-width="1.65"/>
<text x="1485.6" y="99.5" font-size="24" text-anchor="end">1.2</text>
<line x1="1504.2" y1="316.9" x2="1504.2" y2="335.5" stroke="#000" stroke-width="1.65"/>
<line x1="1521.21" y1="316.9" x2="1521.21" y2="327.1" stroke="#000" stroke-width="1.54"/>
<line x1="1531.16" y1="316.9" x2="1531.16" y2="327.1" stroke="#000" stroke-width="1.54"/>
<line x1="1538.22" y1="316.9" x2="1538.22" y2="327.1" stroke="#000" stroke-width="1.54"/>
<line x1="1543.69" y1="316.9" x2="1543.69" y2="327.1" stroke="#000" stroke-width="1.54"/>
<line x1="1548.17" y1="316.9" x2="1548.17" y2="327.1" stroke="#000" stroke-width="1.54"/>
<line x1="1551.95" y1="316.9" x2="1551.95" y2="327.1" stroke="#000" stroke-width="1.54"/>
<line x1="1555.22" y1="316.9" x2="1555.22" y2="327.1" stroke="#000" stroke-width="1.54"/>
<line x1="1558.11" y1="316.9" x2="1558.11" y2="327.1" stroke="#000" stroke-width="1.54"/>
<line x1="1560.7" y1="316.9" x2="1560.7" y2="335.5" stroke="#000" stroke-width="1.65"/>
<line x1="1577.71" y1="316.9" x2="1577.71" y2="327.1" stroke="#000" stroke-width="1.54"/>
<line x1="1587.66" y1="316.9" x2="1587.66" y2="327.1" stroke="#000" stroke-width="1.54"/>
<line x1="1594.72" y1="316.9" x2="1594.72" y2="327.1" stroke="#000" stroke-width="1.54"/>
<line x1="1600.19" y1="316.9" x2="1600.19" y2="327.1" stroke="#000" stroke-width="1.54"/>
<line x1="1604.67" y1="316.9" x2="1604.67" y2="327.1" stroke="#000" stroke-width="1.54"/>
<line x1="1608.45" y1="316.9" x2="1608.45" y2="327.1" stroke="#000" stroke-width="1.54"/>
<line x1="1611.72" y1="316.9" x2="1611.72" y2="327.1" stroke="#000" stroke-width="1.54"/>
<line x1="1614.61" y1="316.9" x2="1614.61" y2="327.1" stroke="#000" stroke-width="1.54"/>
<line x1="1617.2" y1="316.9" x2="1617.2" y2="335.5" stroke="#000" stroke-width="1.65"/>
<line x1="1634.21" y1="316.9" x2="1634.21" y2="327.1" stroke="#000" stroke-width="1.54"/>
<line x1="1644.16" y1="316.9" x2="1644.16" y2="327.1" stroke="#000" stroke-width="1.54"/>
<line x1="1651.22" y1="316.9" x2="1651.22" y2="327.1" stroke="#000" stroke-width="1.54"/>
<line x1="1656.69" y1="316.9" x2="1656.69" y2="327.1" stroke="#000" stroke-width="1.54"/>
<line x1="1661.17" y1="316.9" x2="1661.17" y2="327.1" stroke="#000" stroke-width="1.54"/>
<line x1="1664.95" y1="316.9" x2="1664.95" y2="327.1" stroke="#000" stroke-width="1.54"/>
<line x1="1668.22" y1="316.9" x2="1668.22" y2="327.1" stroke="#000" stroke-width="1.54"/>
<line x1="1671.11" y1="316.9" x2="1671.11" y2="327.1" stroke="#000" stroke-width="1.54"/>
<line x1="1673.7" y1="316.9" x2="1673.7" y2="335.5" stroke="#000" stroke-width="1.65"/>
<line x1="1690.71" y1="316.9" x2="1690.71" y2="327.1" stroke="#000" stroke-width="1.54"/>
<line x1="1700.66" y1="316.9" x2="1700.66" y2="327.1" stroke="#000" stroke-width="1.54"/>
<line x1="1707.72" y1="316.9" x2="1707.72" y2="327.1" stroke="#000" stroke-width="1.54"/>
<line x1="1713.19" y1="316.9" x2="1713.19" y2="327.1" stroke="#000" stroke-width="1.54"/>
<line x1="1717.67" y1="316.9" x2="1717.67" y2="327.1" stroke="#000" stroke-width="1.54"/>
<line x1="1721.45" y1="316.9" x2="1721.45" y2="327.1" stroke="#000" stroke-width="1.54"/>
<line x1="1724.72" y1="316.9" x2="1724.72" y2="327.1" stroke="#000" stroke-width="1.54"/>
<line x1="1727.61" y1="316.9" x2="1727.61" y2="327.1" stroke="#000" stroke-width="1.54"/>
<line x1="1730.2" y1="316.9" x2="1730.2" y2="335.5" stroke="#000" stroke-width="1.65"/>
<text x="1504.2" y="364.5" font-size="24" text-anchor="middle">1.0</text>
<text x="1560.7" y="364.5" font-size="24" text-anchor="middle">1.2</text>
<text x="1617.2" y="364.5" font-size="24" text-anchor="middle">1.4</text>
<text x="1673.7" y="364.5" font-size="24" text-anchor="middle">1.6</text>
<text x="1730.2" y="364.5" font-size="24" text-anchor="middle">1.8</text>
<path d="M1531.0 124.5 Q 1615.8 127.3, 1701.0 153" stroke="#FF0000" stroke-width="1.76" fill="none"/>
<path d="M1531.0 138 L 1701.0 229.5" stroke="#000" stroke-width="1.76" fill="none"/>
<line x1="1531" y1="103.5" x2="1531" y2="151.5" stroke="#FF0000" stroke-width="1.65"/>
<line x1="1526.5" y1="103.5" x2="1535.5" y2="103.5" stroke="#FF0000" stroke-width="1.65"/>
<line x1="1526.5" y1="151.5" x2="1535.5" y2="151.5" stroke="#FF0000" stroke-width="1.65"/>
<line x1="1615.8" y1="104" x2="1615.8" y2="156.5" stroke="#FF0000" stroke-width="1.65"/>
<line x1="1611.3" y1="104" x2="1620.3" y2="104" stroke="#FF0000" stroke-width="1.65"/>
<line x1="1611.3" y1="156.5" x2="1620.3" y2="156.5" stroke="#FF0000" stroke-width="1.65"/>
<line x1="1531" y1="108" x2="1531" y2="168.5" stroke="#000" stroke-width="1.65"/>
<line x1="1526.5" y1="108" x2="1535.5" y2="108" stroke="#000" stroke-width="1.65"/>
<line x1="1526.5" y1="168.5" x2="1535.5" y2="168.5" stroke="#000" stroke-width="1.65"/>
<line x1="1615.8" y1="167.5" x2="1615.8" y2="199" stroke="#000" stroke-width="1.65"/>
<line x1="1611.3" y1="167.5" x2="1620.3" y2="167.5" stroke="#000" stroke-width="1.65"/>
<line x1="1611.3" y1="199" x2="1620.3" y2="199" stroke="#000" stroke-width="1.65"/>
<line x1="1701" y1="212.5" x2="1701" y2="246" stroke="#000" stroke-width="1.65"/>
<line x1="1696.5" y1="212.5" x2="1705.5" y2="212.5" stroke="#000" stroke-width="1.65"/>
<line x1="1696.5" y1="246" x2="1705.5" y2="246" stroke="#000" stroke-width="1.65"/>
<path d="M1525.6 133.6L1536.4 133.6L1531 123.6Z" fill="#FF0000"/>
<path d="M1610.4 135.1L1621.2 135.1L1615.8 125.1Z" fill="#FF0000"/>
<path d="M1695.6 158.1L1706.4 158.1L1701 148.1Z" fill="#FF0000"/>
<circle cx="1531" cy="138.5" r="5.3" fill="#000"/>
<circle cx="1615.8" cy="183.5" r="5.3" fill="#000"/>
<circle cx="1701" cy="229" r="5.3" fill="#000"/>
<rect x="1504.2" y="91.9" width="226" height="225" fill="none" stroke="#000" stroke-width="1.65"/>
<text x="1529" y="284.6" font-size="24">Calu-1</text>
<text x="1618.8" y="399.2" font-size="24" text-anchor="middle">log<tspan font-size="16.5" dy="5.5">10</tspan><tspan dy="-5.5"> (4HNE, μM)</tspan></text>
<text font-size="24" text-anchor="middle" transform="translate(1429.8 207) rotate(-90)">Relative viability</text>
</g>
<g id="pc">
<text x="1.5" y="493.4" font-size="33" font-weight="bold">c</text>
<rect x="157.6" y="493.6" width="33.2" height="15.4" fill="#56A0FB" stroke="#000" stroke-width="1.54"/>
<line x1="156.9" y1="509" x2="191.5" y2="509" stroke="#000" stroke-width="2.2"/>
<text x="196.4" y="510.8" font-size="24">HT-1080</text>
<rect x="305.4" y="493.2" width="33.2" height="15.8" fill="#FF8080" stroke="#000" stroke-width="1.54"/>
<line x1="304.7" y1="509" x2="339.3" y2="509" stroke="#000" stroke-width="2.2"/>
<text x="344.4" y="507.5" font-size="23.2">Calu-1</text>
<rect x="177.15" y="578.2" width="13.3" height="104.4" fill="#56A0FB" stroke="#000" stroke-width="1.54"/>
<rect x="199.55" y="578.2" width="13.3" height="104.4" fill="#FF8080" stroke="#000" stroke-width="1.54"/>
<rect x="237.55" y="629.88" width="13.3" height="52.72" fill="#56A0FB" stroke="#000" stroke-width="1.54"/>
<rect x="259.95" y="634.89" width="13.3" height="47.71" fill="#FF8080" stroke="#000" stroke-width="1.54"/>
<rect x="298.25" y="577.36" width="13.3" height="105.24" fill="#56A0FB" stroke="#000" stroke-width="1.54"/>
<rect x="320.65" y="580.29" width="13.3" height="102.31" fill="#FF8080" stroke="#000" stroke-width="1.54"/>
<rect x="358.75" y="628" width="13.3" height="54.6" fill="#56A0FB" stroke="#000" stroke-width="1.54"/>
<rect x="381.15" y="626.64" width="13.3" height="55.96" fill="#FF8080" stroke="#000" stroke-width="1.54"/>
<rect x="169" y="526" width="235.5" height="156.6" fill="none" stroke="#000" stroke-width="1.65"/>
<line x1="156" y1="682.6" x2="169" y2="682.6" stroke="#000" stroke-width="1.65"/>
<text x="150.6" y="691.6" font-size="25.6" text-anchor="end">0</text>
<line x1="156" y1="630.4" x2="169" y2="630.4" stroke="#000" stroke-width="1.65"/>
<text x="150.6" y="639.4" font-size="25.6" text-anchor="end">50</text>
<line x1="156" y1="578.2" x2="169" y2="578.2" stroke="#000" stroke-width="1.65"/>
<text x="150.6" y="587.2" font-size="25.6" text-anchor="end">100</text>
<line x1="156" y1="526" x2="169" y2="526" stroke="#000" stroke-width="1.65"/>
<text x="150.6" y="535" font-size="25.6" text-anchor="end">150</text>
<line x1="195.2" y1="682.6" x2="195.2" y2="696.6" stroke="#000" stroke-width="1.65"/>
<line x1="255.6" y1="682.6" x2="255.6" y2="696.6" stroke="#000" stroke-width="1.65"/>
<line x1="316.3" y1="682.6" x2="316.3" y2="696.6" stroke="#000" stroke-width="1.65"/>
<line x1="376.8" y1="682.6" x2="376.8" y2="696.6" stroke="#000" stroke-width="1.65"/>
<line x1="244.5" y1="622.6" x2="244.5" y2="635.6" stroke="#000" stroke-width="1.54"/>
<line x1="240.5" y1="622.6" x2="248.5" y2="622.6" stroke="#000" stroke-width="1.54"/>
<line x1="240.5" y1="635.6" x2="248.5" y2="635.6" stroke="#000" stroke-width="1.54"/>
<line x1="267.3" y1="623.2" x2="267.3" y2="643.7" stroke="#000" stroke-width="1.54"/>
<line x1="263.3" y1="623.2" x2="271.3" y2="623.2" stroke="#000" stroke-width="1.54"/>
<line x1="263.3" y1="643.7" x2="271.3" y2="643.7" stroke="#000" stroke-width="1.54"/>
<line x1="305.3" y1="562.3" x2="305.3" y2="589.2" stroke="#000" stroke-width="1.54"/>
<line x1="301.3" y1="562.3" x2="309.3" y2="562.3" stroke="#000" stroke-width="1.54"/>
<line x1="301.3" y1="589.2" x2="309.3" y2="589.2" stroke="#000" stroke-width="1.54"/>
<line x1="328.1" y1="571.1" x2="328.1" y2="589.7" stroke="#000" stroke-width="1.54"/>
<line x1="324.1" y1="571.1" x2="332.1" y2="571.1" stroke="#000" stroke-width="1.54"/>
<line x1="324.1" y1="589.7" x2="332.1" y2="589.7" stroke="#000" stroke-width="1.54"/>
<line x1="366.1" y1="616.8" x2="366.1" y2="635.6" stroke="#000" stroke-width="1.54"/>
<line x1="362.1" y1="616.8" x2="370.1" y2="616.8" stroke="#000" stroke-width="1.54"/>
<line x1="362.1" y1="635.6" x2="370.1" y2="635.6" stroke="#000" stroke-width="1.54"/>
<line x1="388.9" y1="619.5" x2="388.9" y2="631.6" stroke="#000" stroke-width="1.54"/>
<line x1="384.9" y1="619.5" x2="392.9" y2="619.5" stroke="#000" stroke-width="1.54"/>
<line x1="384.9" y1="631.6" x2="392.9" y2="631.6" stroke="#000" stroke-width="1.54"/>
<circle cx="178.4" cy="577.9" r="3.2" fill="#000"/>
<circle cx="182" cy="577.9" r="3.2" fill="#000"/>
<circle cx="185.6" cy="577.9" r="3.2" fill="#000"/>
<circle cx="189.2" cy="577.9" r="3.2" fill="#000"/>
<circle cx="200.8" cy="577.9" r="3.2" fill="#000"/>
<circle cx="204.4" cy="577.9" r="3.2" fill="#000"/>
<circle cx="208" cy="577.9" r="3.2" fill="#000"/>
<circle cx="211.6" cy="577.9" r="3.2" fill="#000"/>
<circle cx="239.5" cy="623.2" r="3.2" fill="#000"/>
<circle cx="250" cy="627.1" r="3.2" fill="#000"/>
<circle cx="244.5" cy="635.3" r="3.2" fill="#000"/>
<circle cx="262.1" cy="626.3" r="3.2" fill="#000"/>
<circle cx="272.6" cy="629.7" r="3.2" fill="#000"/>
<circle cx="267.3" cy="643.4" r="3.2" fill="#000"/>
<circle cx="305.3" cy="561.9" r="3.2" fill="#000"/>
<circle cx="310.2" cy="581.6" r="3.2" fill="#000"/>
<circle cx="300.2" cy="585.3" r="3.2" fill="#000"/>
<circle cx="323.4" cy="573.1" r="3.2" fill="#000"/>
<circle cx="333.1" cy="576" r="3.2" fill="#000"/>
<circle cx="328.1" cy="589.4" r="3.2" fill="#000"/>
<circle cx="366.1" cy="616.8" r="3.2" fill="#000"/>
<circle cx="371.5" cy="630.8" r="3.2" fill="#000"/>
<circle cx="361" cy="633.7" r="3.2" fill="#000"/>
<circle cx="383.9" cy="620.8" r="3.2" fill="#000"/>
<circle cx="394" cy="623.5" r="3.2" fill="#000"/>
<circle cx="388.9" cy="631.1" r="3.2" fill="#000"/>
<path d="M244.8 550.5V545H305.3V550.5" stroke="#000" stroke-width="1.32" fill="none"/>
<text x="293.6" y="538.9" font-size="17.6" text-anchor="middle">p&lt;0.0001</text>
<path d="M267.3 565.5V559H328.4V565.5" stroke="#000" stroke-width="1.32" fill="none"/>
<text x="318.6" y="552.9" font-size="17.6" text-anchor="middle">p&lt;0.0001</text>
<text font-size="26" text-anchor="middle" transform="translate(89.6 606.5) rotate(-90)">Cell viability (%)</text>
<text font-size="26.5" text-anchor="end" transform="translate(203 719.5) rotate(-45)">Ctrl</text>
<text font-size="26.5" text-anchor="end" transform="translate(265 719.5) rotate(-45)">4HNE</text>
<text font-size="26.5" text-anchor="end" transform="translate(323 720.5) rotate(-45)">4HNE+<tspan fill="#006D3B">Fer-1</tspan></text>
<text font-size="26.5" text-anchor="end" transform="translate(386 718.5) rotate(-45)">4HNE+<tspan fill="#ED1C24">ZVAD-FMK</tspan></text>
</g>
<g id="pd">
<text x="512.5" y="493.2" font-size="33" font-weight="bold">d</text>
<rect x="660.9" y="596.5" width="22.6" height="156" fill="#fff" stroke="#000" stroke-width="1.76"/>
<rect x="696.3" y="685.5" width="22.6" height="67" fill="#fff" stroke="#000" stroke-width="1.76"/>
<rect x="731.5" y="680" width="22.6" height="72.5" fill="#fff" stroke="#000" stroke-width="1.76"/>
<rect x="766.7" y="731" width="22.6" height="21.5" fill="#fff" stroke="#000" stroke-width="1.76"/>
<rect x="802.1" y="739.1" width="22.6" height="13.4" fill="#fff" stroke="#000" stroke-width="1.76"/>
<rect x="860.9" y="596.5" width="22.6" height="156" fill="#FF8080" stroke="#000" stroke-width="1.76"/>
<rect x="896.3" y="607.9" width="22.6" height="144.6" fill="#FF8080" stroke="#000" stroke-width="1.76"/>
<rect x="931.6" y="610.3" width="22.6" height="142.2" fill="#FF8080" stroke="#000" stroke-width="1.76"/>
<rect x="967" y="720.9" width="22.6" height="31.6" fill="#FF8080" stroke="#000" stroke-width="1.76"/>
<rect x="1002.2" y="731.6" width="22.6" height="20.9" fill="#FF8080" stroke="#000" stroke-width="1.76"/>
<rect x="1060.8" y="596.5" width="22.6" height="156" fill="#56A0FB" stroke="#000" stroke-width="1.76"/>
<rect x="1096.2" y="608.4" width="22.6" height="144.1" fill="#56A0FB" stroke="#000" stroke-width="1.76"/>
<rect x="1131.6" y="602" width="22.6" height="150.5" fill="#56A0FB" stroke="#000" stroke-width="1.76"/>
<rect x="1166.8" y="714.1" width="22.6" height="38.4" fill="#56A0FB" stroke="#000" stroke-width="1.76"/>
<rect x="1202.2" y="729.2" width="22.6" height="23.3" fill="#56A0FB" stroke="#000" stroke-width="1.76"/>
<rect x="648.4" y="517.5" width="588.9" height="235" fill="none" stroke="#000" stroke-width="1.65"/>
<line x1="635.8" y1="752.5" x2="648.4" y2="752.5" stroke="#000" stroke-width="1.65"/>
<text x="630.4" y="761.5" font-size="25.5" text-anchor="end">0</text>
<line x1="635.8" y1="674.17" x2="648.4" y2="674.17" stroke="#000" stroke-width="1.65"/>
<text x="630.4" y="683.17" font-size="25.5" text-anchor="end">50</text>
<line x1="635.8" y1="595.83" x2="648.4" y2="595.83" stroke="#000" stroke-width="1.65"/>
<text x="630.4" y="604.83" font-size="25.5" text-anchor="end">100</text>
<line x1="635.8" y1="517.5" x2="648.4" y2="517.5" stroke="#000" stroke-width="1.65"/>
<text x="630.4" y="526.5" font-size="25.5" text-anchor="end">150</text>
<line x1="672.2" y1="752.5" x2="672.2" y2="765.5" stroke="#000" stroke-width="1.65"/>
<text x="671.6" y="797.2" font-size="25.5" text-anchor="middle">1</text>
<line x1="707.6" y1="752.5" x2="707.6" y2="765.5" stroke="#000" stroke-width="1.65"/>
<text x="707" y="797.2" font-size="25.5" text-anchor="middle">2</text>
<line x1="742.8" y1="752.5" x2="742.8" y2="765.5" stroke="#000" stroke-width="1.65"/>
<text x="742.2" y="797.2" font-size="25.5" text-anchor="middle">3</text>
<line x1="778" y1="752.5" x2="778" y2="765.5" stroke="#000" stroke-width="1.65"/>
<text x="777.4" y="797.2" font-size="25.5" text-anchor="middle">4</text>
<line x1="813.4" y1="752.5" x2="813.4" y2="765.5" stroke="#000" stroke-width="1.65"/>
<text x="812.8" y="797.2" font-size="25.5" text-anchor="middle">5</text>
<line x1="872.2" y1="752.5" x2="872.2" y2="765.5" stroke="#000" stroke-width="1.65"/>
<text x="871.6" y="797.2" font-size="25.5" text-anchor="middle">1</text>
<line x1="907.6" y1="752.5" x2="907.6" y2="765.5" stroke="#000" stroke-width="1.65"/>
<text x="907" y="797.2" font-size="25.5" text-anchor="middle">2</text>
<line x1="942.9" y1="752.5" x2="942.9" y2="765.5" stroke="#000" stroke-width="1.65"/>
<text x="942.3" y="797.2" font-size="25.5" text-anchor="middle">3</text>
<line x1="978.3" y1="752.5" x2="978.3" y2="765.5" stroke="#000" stroke-width="1.65"/>
<text x="977.7" y="797.2" font-size="25.5" text-anchor="middle">4</text>
<line x1="1013.5" y1="752.5" x2="1013.5" y2="765.5" stroke="#000" stroke-width="1.65"/>
<text x="1012.9" y="797.2" font-size="25.5" text-anchor="middle">5</text>
<line x1="1072.1" y1="752.5" x2="1072.1" y2="765.5" stroke="#000" stroke-width="1.65"/>
<text x="1071.5" y="797.2" font-size="25.5" text-anchor="middle">1</text>
<line x1="1107.5" y1="752.5" x2="1107.5" y2="765.5" stroke="#000" stroke-width="1.65"/>
<text x="1106.9" y="797.2" font-size="25.5" text-anchor="middle">2</text>
<line x1="1142.9" y1="752.5" x2="1142.9" y2="765.5" stroke="#000" stroke-width="1.65"/>
<text x="1142.3" y="797.2" font-size="25.5" text-anchor="middle">3</text>
<line x1="1178.1" y1="752.5" x2="1178.1" y2="765.5" stroke="#000" stroke-width="1.65"/>
<text x="1177.5" y="797.2" font-size="25.5" text-anchor="middle">4</text>
<line x1="1213.5" y1="752.5" x2="1213.5" y2="765.5" stroke="#000" stroke-width="1.65"/>
<text x="1212.9" y="797.2" font-size="25.5" text-anchor="middle">5</text>
<line x1="707.6" y1="678.4" x2="707.6" y2="689.3" stroke="#000" stroke-width="1.54"/>
<line x1="702.1" y1="678.4" x2="713.1" y2="678.4" stroke="#000" stroke-width="1.54"/>
<line x1="702.1" y1="689.3" x2="713.1" y2="689.3" stroke="#000" stroke-width="1.54"/>
<line x1="742.8" y1="668.7" x2="742.8" y2="689.3" stroke="#000" stroke-width="1.54"/>
<line x1="737.3" y1="668.7" x2="748.3" y2="668.7" stroke="#000" stroke-width="1.54"/>
<line x1="737.3" y1="689.3" x2="748.3" y2="689.3" stroke="#000" stroke-width="1.54"/>
<line x1="778" y1="720.3" x2="778" y2="738.3" stroke="#000" stroke-width="1.54"/>
<line x1="772.5" y1="720.3" x2="783.5" y2="720.3" stroke="#000" stroke-width="1.54"/>
<line x1="772.5" y1="738.3" x2="783.5" y2="738.3" stroke="#000" stroke-width="1.54"/>
<line x1="813.4" y1="736.2" x2="813.4" y2="738.8" stroke="#000" stroke-width="1.54"/>
<line x1="807.9" y1="736.2" x2="818.9" y2="736.2" stroke="#000" stroke-width="1.54"/>
<line x1="807.9" y1="738.8" x2="818.9" y2="738.8" stroke="#000" stroke-width="1.54"/>
<line x1="907.6" y1="603" x2="907.6" y2="611.3" stroke="#000" stroke-width="1.54"/>
<line x1="902.1" y1="603" x2="913.1" y2="603" stroke="#000" stroke-width="1.54"/>
<line x1="902.1" y1="611.3" x2="913.1" y2="611.3" stroke="#000" stroke-width="1.54"/>
<line x1="942.9" y1="603.2" x2="942.9" y2="614.4" stroke="#000" stroke-width="1.54"/>
<line x1="937.4" y1="603.2" x2="948.4" y2="603.2" stroke="#000" stroke-width="1.54"/>
<line x1="937.4" y1="614.4" x2="948.4" y2="614.4" stroke="#000" stroke-width="1.54"/>
<line x1="978.3" y1="712.9" x2="978.3" y2="725.8" stroke="#000" stroke-width="1.54"/>
<line x1="972.8" y1="712.9" x2="983.8" y2="712.9" stroke="#000" stroke-width="1.54"/>
<line x1="972.8" y1="725.8" x2="983.8" y2="725.8" stroke="#000" stroke-width="1.54"/>
<line x1="1013.5" y1="724.5" x2="1013.5" y2="735.9" stroke="#000" stroke-width="1.54"/>
<line x1="1008" y1="724.5" x2="1019" y2="724.5" stroke="#000" stroke-width="1.54"/>
<line x1="1008" y1="735.9" x2="1019" y2="735.9" stroke="#000" stroke-width="1.54"/>
<line x1="1107.5" y1="599.5" x2="1107.5" y2="615.2" stroke="#000" stroke-width="1.54"/>
<line x1="1102" y1="599.5" x2="1113" y2="599.5" stroke="#000" stroke-width="1.54"/>
<line x1="1102" y1="615.2" x2="1113" y2="615.2" stroke="#000" stroke-width="1.54"/>
<line x1="1142.9" y1="599.2" x2="1142.9" y2="602.4" stroke="#000" stroke-width="1.54"/>
<line x1="1137.4" y1="599.2" x2="1148.4" y2="599.2" stroke="#000" stroke-width="1.54"/>
<line x1="1137.4" y1="602.4" x2="1148.4" y2="602.4" stroke="#000" stroke-width="1.54"/>
<line x1="1178.1" y1="704.6" x2="1178.1" y2="720.3" stroke="#000" stroke-width="1.54"/>
<line x1="1172.6" y1="704.6" x2="1183.6" y2="704.6" stroke="#000" stroke-width="1.54"/>
<line x1="1172.6" y1="720.3" x2="1183.6" y2="720.3" stroke="#000" stroke-width="1.54"/>
<line x1="1213.5" y1="725.3" x2="1213.5" y2="730.8" stroke="#000" stroke-width="1.54"/>
<line x1="1208" y1="725.3" x2="1219" y2="725.3" stroke="#000" stroke-width="1.54"/>
<line x1="1208" y1="730.8" x2="1219" y2="730.8" stroke="#000" stroke-width="1.54"/>
<circle cx="662.6" cy="595.9" r="3.1" fill="#000"/>
<circle cx="672.2" cy="595.9" r="3.1" fill="#000"/>
<circle cx="681.8" cy="595.9" r="3.1" fill="#000"/>
<circle cx="862.6" cy="595.9" r="3.1" fill="#000"/>
<circle cx="872.2" cy="595.9" r="3.1" fill="#000"/>
<circle cx="881.8" cy="595.9" r="3.1" fill="#000"/>
<circle cx="1062.5" cy="595.9" r="3.1" fill="#000"/>
<circle cx="1072.1" cy="595.9" r="3.1" fill="#000"/>
<circle cx="1081.7" cy="595.9" r="3.1" fill="#000"/>
<circle cx="707.6" cy="678.2" r="3.1" fill="#000"/>
<circle cx="702.8" cy="688.9" r="3.1" fill="#000"/>
<circle cx="712.6" cy="684.7" r="3.1" fill="#000"/>
<circle cx="742.8" cy="669.2" r="3.1" fill="#000"/>
<circle cx="742.8" cy="677.9" r="3.1" fill="#000"/>
<circle cx="742.8" cy="688.9" r="3.1" fill="#000"/>
<circle cx="778" cy="719.7" r="3.1" fill="#000"/>
<circle cx="783" cy="732.3" r="3.1" fill="#000"/>
<circle cx="773.6" cy="735.9" r="3.1" fill="#000"/>
<circle cx="803.6" cy="738.3" r="3.1" fill="#000"/>
<circle cx="813.4" cy="735.9" r="3.1" fill="#000"/>
<circle cx="823" cy="738.3" r="3.1" fill="#000"/>
<circle cx="902.8" cy="602.9" r="3.1" fill="#000"/>
<circle cx="913" cy="605.4" r="3.1" fill="#000"/>
<circle cx="907.6" cy="611.5" r="3.1" fill="#000"/>
<circle cx="942.9" cy="602.3" r="3.1" fill="#000"/>
<circle cx="938.2" cy="612.4" r="3.1" fill="#000"/>
<circle cx="948" cy="609.7" r="3.1" fill="#000"/>
<circle cx="978.3" cy="711.6" r="3.1" fill="#000"/>
<circle cx="973.7" cy="723.6" r="3.1" fill="#000"/>
<circle cx="982.9" cy="723.6" r="3.1" fill="#000"/>
<circle cx="1013.5" cy="724.5" r="3.1" fill="#000"/>
<circle cx="1013.5" cy="730.4" r="3.1" fill="#000"/>
<circle cx="1013.5" cy="735.9" r="3.1" fill="#000"/>
<circle cx="1103.3" cy="602.3" r="3.1" fill="#000"/>
<circle cx="1112.1" cy="603.2" r="3.1" fill="#000"/>
<circle cx="1107.5" cy="616.1" r="3.1" fill="#000"/>
<circle cx="1138.3" cy="596.8" r="3.1" fill="#000"/>
<circle cx="1138.3" cy="602.9" r="3.1" fill="#000"/>
<circle cx="1147.5" cy="600.5" r="3.1" fill="#000"/>
<circle cx="1173.9" cy="708.3" r="3.1" fill="#000"/>
<circle cx="1182.9" cy="708.3" r="3.1" fill="#000"/>
<circle cx="1178.1" cy="721.7" r="3.1" fill="#000"/>
<circle cx="1213.5" cy="723.6" r="3.1" fill="#000"/>
<circle cx="1208.7" cy="730.4" r="3.1" fill="#000"/>
<circle cx="1218.5" cy="729.1" r="3.1" fill="#000"/>
<path d="M909.1 592.4V586.2H981.5V592.4" stroke="#000" stroke-width="1.32" fill="none"/>
<text x="971.9" y="579.3" font-size="17.8" text-anchor="middle">p&lt;0.0001</text>
<path d="M944.5 565.6V559H1017V565.6" stroke="#000" stroke-width="1.32" fill="none"/>
<text x="1000.5" y="553.5" font-size="17.8" text-anchor="middle">p&lt;0.0001</text>
<path d="M1106.6 589.6V583.4H1179.2V589.6" stroke="#000" stroke-width="1.32" fill="none"/>
<text x="1169.6" y="576.6" font-size="17.8" text-anchor="middle">p&lt;0.0001</text>
<path d="M1142.1 559.1V553.1H1214.8V559.1" stroke="#000" stroke-width="1.32" fill="none"/>
<text x="1195.1" y="547.6" font-size="17.8" text-anchor="middle">p&lt;0.0001</text>
<text font-size="26.5" text-anchor="middle" transform="translate(557.5 637) rotate(-90)">Cell viability (%)</text>
<rect x="1264.2" y="589.6" width="32.8" height="15.6" fill="#fff" stroke="#000" stroke-width="1.54"/>
<line x1="1263.5" y1="605.2" x2="1297.7" y2="605.2" stroke="#000" stroke-width="2.2"/>
<rect x="1264.2" y="623.2" width="32.8" height="15.6" fill="#FF8080" stroke="#000" stroke-width="1.54"/>
<line x1="1263.5" y1="638.8" x2="1297.7" y2="638.8" stroke="#000" stroke-width="2.2"/>
<rect x="1264.2" y="656.3" width="32.8" height="15.6" fill="#56A0FB" stroke="#000" stroke-width="1.54"/>
<line x1="1263.5" y1="671.9" x2="1297.7" y2="671.9" stroke="#000" stroke-width="2.2"/>
<text x="1308.8" y="605.6" font-size="25">WT</text>
<text x="1307.2" y="641.4" font-size="26">EIF4E<tspan font-size="18.8" dy="-11.2">KD</tspan><tspan dy="11.2" font-size="1">&#8203;</tspan></text>
<text x="1307.2" y="674.2" font-size="26">EIF4E<tspan font-size="18.8" dy="-11.2">S53A</tspan><tspan dy="11.2" font-size="1">&#8203;</tspan></text>
<text x="1444" y="587.9" font-size="24.4">1: Ctrl</text>
<text x="1444" y="617.45" font-size="24.4">2: RSL3</text>
<text x="1444" y="647" font-size="24.4">3: Erastin</text>
<text x="1444" y="676.55" font-size="24.4">4: RSL3+4HNE</text>
<text x="1444" y="706.1" font-size="24.4">5: Erastin+4HNE</text>
</g>
<g id="pe">
<text x="0.5" y="873" font-size="33" font-weight="bold">e</text>
<defs><linearGradient id="gr" x1="0" y1="1" x2="0" y2="0"><stop offset="0" stop-color="#fff"/><stop offset="0.5" stop-color="#FF8E8E"/><stop offset="1" stop-color="#FF0606"/></linearGradient><linearGradient id="go" x1="0" y1="1" x2="0" y2="0"><stop offset="0" stop-color="#fff"/><stop offset="1" stop-color="#F1B078"/></linearGradient><linearGradient id="gb" x1="0" y1="1" x2="0" y2="0"><stop offset="0" stop-color="#fff"/><stop offset="1" stop-color="#0A0AFF"/></linearGradient></defs>
<rect x="46.6" y="968.8" width="31" height="295.8" fill="url(#gr)" stroke="#000" stroke-width="1.43"/>
<line x1="46.6" y1="1116.8" x2="55.5" y2="1116.8" stroke="#000" stroke-width="1.43"/>
<line x1="68.7" y1="1116.8" x2="77.6" y2="1116.8" stroke="#000" stroke-width="1.43"/>
<text x="98.6" y="978.8" font-size="26.2">60</text>
<text x="98.6" y="1126.4" font-size="26.2">30</text>
<text x="98.6" y="1274.8" font-size="26.2">0</text>
<text font-size="26" text-anchor="middle" transform="translate(19.8 1112) rotate(-90)">Cell death (%)</text>
<rect x="137.9" y="1171.8" width="39.24" height="42.1" fill="#FFEBEB" stroke="#000" stroke-width="1.32"/>
<rect x="137.9" y="1213.9" width="39.24" height="41.8" fill="#FFE4E4" stroke="#000" stroke-width="1.32"/>
<rect x="177.14" y="1171.8" width="39.24" height="42.1" fill="#FFD2D2" stroke="#000" stroke-width="1.32"/>
<rect x="177.14" y="1213.9" width="39.24" height="41.8" fill="#FFE9E9" stroke="#000" stroke-width="1.32"/>
<rect x="216.38" y="1171.8" width="39.24" height="42.1" fill="#FFEEEE" stroke="#000" stroke-width="1.32"/>
<rect x="216.38" y="1213.9" width="39.24" height="41.8" fill="#FFF0F0" stroke="#000" stroke-width="1.32"/>
<rect x="255.61" y="1171.8" width="39.24" height="42.1" fill="#FFECEC" stroke="#000" stroke-width="1.32"/>
<rect x="255.61" y="1213.9" width="39.24" height="41.8" fill="#FFEEEE" stroke="#000" stroke-width="1.32"/>
<rect x="294.85" y="1171.8" width="39.24" height="42.1" fill="#FF1A1A" stroke="#000" stroke-width="1.32"/>
<rect x="294.85" y="1213.9" width="39.24" height="41.8" fill="#FF3030" stroke="#000" stroke-width="1.32"/>
<rect x="334.09" y="1171.8" width="39.24" height="42.1" fill="#FFEAEA" stroke="#000" stroke-width="1.32"/>
<rect x="334.09" y="1213.9" width="39.24" height="41.8" fill="#FFE8E8" stroke="#000" stroke-width="1.32"/>
<rect x="373.32" y="1171.8" width="39.24" height="42.1" fill="#FFEEEE" stroke="#000" stroke-width="1.32"/>
<rect x="373.32" y="1213.9" width="39.24" height="41.8" fill="#FFEEEE" stroke="#000" stroke-width="1.32"/>
<rect x="412.56" y="1171.8" width="39.24" height="42.1" fill="#FFE9E9" stroke="#000" stroke-width="1.32"/>
<rect x="412.56" y="1213.9" width="39.24" height="41.8" fill="#FFEAEA" stroke="#000" stroke-width="1.32"/>
<rect x="451.8" y="1171.8" width="39.24" height="42.1" fill="#FF4D4D" stroke="#000" stroke-width="1.32"/>
<rect x="451.8" y="1213.9" width="39.24" height="41.8" fill="#FF1010" stroke="#000" stroke-width="1.32"/>
<rect x="491.04" y="1171.8" width="39.24" height="42.1" fill="#FF4040" stroke="#000" stroke-width="1.32"/>
<rect x="491.04" y="1213.9" width="39.24" height="41.8" fill="#FF3030" stroke="#000" stroke-width="1.32"/>
<rect x="530.27" y="1171.8" width="39.24" height="42.1" fill="#FF5252" stroke="#000" stroke-width="1.32"/>
<rect x="530.27" y="1213.9" width="39.24" height="41.8" fill="#FF2020" stroke="#000" stroke-width="1.32"/>
<rect x="569.51" y="1171.8" width="39.24" height="42.1" fill="#FF4545" stroke="#000" stroke-width="1.32"/>
<rect x="569.51" y="1213.9" width="39.24" height="41.8" fill="#FF3C3C" stroke="#000" stroke-width="1.32"/>
<rect x="608.75" y="1171.8" width="39.24" height="42.1" fill="#FFEEEE" stroke="#000" stroke-width="1.32"/>
<rect x="608.75" y="1213.9" width="39.24" height="41.8" fill="#FFF2F2" stroke="#000" stroke-width="1.32"/>
<rect x="647.99" y="1171.8" width="39.24" height="42.1" fill="#FFE6E6" stroke="#000" stroke-width="1.32"/>
<rect x="647.99" y="1213.9" width="39.24" height="41.8" fill="#FFECEC" stroke="#000" stroke-width="1.32"/>
<rect x="687.22" y="1171.8" width="39.24" height="42.1" fill="#FF3B3B" stroke="#000" stroke-width="1.32"/>
<rect x="687.22" y="1213.9" width="39.24" height="41.8" fill="#FF3C3C" stroke="#000" stroke-width="1.32"/>
<rect x="726.46" y="1171.8" width="39.24" height="42.1" fill="#FFEBEB" stroke="#000" stroke-width="1.32"/>
<rect x="726.46" y="1213.9" width="39.24" height="41.8" fill="#FFEEEE" stroke="#000" stroke-width="1.32"/>
<rect x="765.7" y="1171.8" width="39.24" height="42.1" fill="#FFEEEE" stroke="#000" stroke-width="1.32"/>
<rect x="765.7" y="1213.9" width="39.24" height="41.8" fill="#FFEDED" stroke="#000" stroke-width="1.32"/>
<rect x="804.94" y="1171.8" width="39.24" height="42.1" fill="#FFEFEF" stroke="#000" stroke-width="1.32"/>
<rect x="804.94" y="1213.9" width="39.24" height="41.8" fill="#FFEFEF" stroke="#000" stroke-width="1.32"/>
<rect x="844.17" y="1171.8" width="39.24" height="42.1" fill="#FF2020" stroke="#000" stroke-width="1.32"/>
<rect x="844.17" y="1213.9" width="39.24" height="41.8" fill="#FF1010" stroke="#000" stroke-width="1.32"/>
<rect x="883.41" y="1171.8" width="39.24" height="42.1" fill="#FF4545" stroke="#000" stroke-width="1.32"/>
<rect x="883.41" y="1213.9" width="39.24" height="41.8" fill="#FF2828" stroke="#000" stroke-width="1.32"/>
<rect x="922.65" y="1171.8" width="39.24" height="42.1" fill="#FF3838" stroke="#000" stroke-width="1.32"/>
<rect x="922.65" y="1213.9" width="39.24" height="41.8" fill="#FF1818" stroke="#000" stroke-width="1.32"/>
<rect x="961.89" y="1171.8" width="39.24" height="42.1" fill="#FF3A3A" stroke="#000" stroke-width="1.32"/>
<rect x="961.89" y="1213.9" width="39.24" height="41.8" fill="#FF3838" stroke="#000" stroke-width="1.32"/>
<rect x="1001.12" y="1171.8" width="39.24" height="42.1" fill="#FFF2F2" stroke="#000" stroke-width="1.32"/>
<rect x="1001.12" y="1213.9" width="39.24" height="41.8" fill="#FFECEC" stroke="#000" stroke-width="1.32"/>
<rect x="1040.36" y="1171.8" width="39.24" height="42.1" fill="#FFEFEF" stroke="#000" stroke-width="1.32"/>
<rect x="1040.36" y="1213.9" width="39.24" height="41.8" fill="#FFE4E4" stroke="#000" stroke-width="1.32"/>
<text font-size="28.2" transform="translate(165.4 1160.3) rotate(-90) scale(0.92 1)">Ctrl</text>
<text font-size="28.2" transform="translate(204.76 1160.3) rotate(-90) scale(0.92 1)">4HNE</text>
<text font-size="28.2" transform="translate(244.12 1160.3) rotate(-90) scale(0.92 1)">RSL3</text>
<text font-size="28.2" transform="translate(283.48 1160.3) rotate(-90) scale(0.92 1)">Erastin</text>
<text font-size="28.2" transform="translate(322.84 1160.3) rotate(-90) scale(0.92 1)">4HNE+RSL3</text>
<text font-size="28.2" transform="translate(362.2 1160.3) rotate(-90) scale(0.92 1)">4HNE+RSL3+<tspan fill="#006D3B">Fer-1</tspan></text>
<text font-size="28.2" transform="translate(401.56 1160.3) rotate(-90) scale(0.92 1)">4HNE+RSL3+<tspan fill="#006D3B">4EGI-1</tspan></text>
<text font-size="28.2" transform="translate(440.92 1160.3) rotate(-90) scale(0.92 1)">4HNE+RSL3+<tspan fill="#006D3B">4E1RCat</tspan></text>
<text font-size="28.2" transform="translate(480.28 1160.3) rotate(-90) scale(0.92 1)">4HNE+RSL3+<tspan fill="#ED1C24">ZVAD-FMK</tspan></text>
<text font-size="28.2" transform="translate(519.64 1160.3) rotate(-90) scale(0.92 1)">4HNE+RSL3+<tspan fill="#ED1C24">NSA</tspan> 4HNE</text>
<text font-size="28.2" transform="translate(559 1160.3) rotate(-90) scale(0.92 1)">+RSL3+<tspan fill="#ED1C24">baicalein</tspan> 4HNE</text>
<text font-size="28.2" transform="translate(598.36 1160.3) rotate(-90) scale(0.92 1)">+RSL3+<tspan fill="#ED1C24">zileuton</tspan> 4HNE</text>
<text font-size="28.2" transform="translate(637.72 1160.3) rotate(-90) scale(0.92 1)">+RSL3+<tspan fill="#006D3B">2AC</tspan> 4HNE+RSL3</text>
<text font-size="28.2" transform="translate(677.08 1160.3) rotate(-90) scale(0.92 1)">+<tspan fill="#006D3B">DPI</tspan> 4HNE+Erastin</text>
<text font-size="28.2" transform="translate(716.44 1160.3) rotate(-90) scale(0.92 1)">4HNE+Erastin+<tspan fill="#006D3B">Fer-1</tspan> 4HNE</text>
<text font-size="28.2" transform="translate(755.8 1160.3) rotate(-90) scale(0.92 1)">+Erastin+<tspan fill="#006D3B">4EGI-1</tspan> 4HNE</text>
<text font-size="28.2" transform="translate(795.16 1160.3) rotate(-90) scale(0.92 1)">+Erastin+<tspan fill="#006D3B">4E1RCat</tspan> 4HNE</text>
<text font-size="28.2" transform="translate(834.52 1160.3) rotate(-90) scale(0.92 1)">+Erastin+<tspan fill="#ED1C24">ZVAD-FMK</tspan> 4HNE</text>
<text font-size="28.2" transform="translate(873.88 1160.3) rotate(-90) scale(0.92 1)">+Erastin+<tspan fill="#ED1C24">NSA</tspan> 4HNE</text>
<text font-size="28.2" transform="translate(913.24 1160.3) rotate(-90) scale(0.92 1)">+Erastin+<tspan fill="#ED1C24">baicalein</tspan> 4HNE</text>
<text font-size="28.2" transform="translate(952.6 1160.3) rotate(-90) scale(0.92 1)">+Erastin+<tspan fill="#ED1C24">zileuton</tspan> 4HNE</text>
<text font-size="28.2" transform="translate(991.96 1160.3) rotate(-90) scale(0.92 1)">+Erastin+<tspan fill="#006D3B">2A C</tspan> 4HNE</text>
<text font-size="28.2" transform="translate(1031.32 1160.3) rotate(-90) scale(0.92 1)">+Erastin+<tspan fill="#006D3B">DPI</tspan></text>
<text font-size="28.2" fill="#ED1C24" transform="translate(870.4 883.8) rotate(-90) scale(0.92 1)">MK</text>
<text x="1089.6" y="1203.3" font-size="26.2">HT-1080</text>
<text x="1089.6" y="1245.5" font-size="25.6">Calu-1</text>
</g>
<g id="pf">
<text x="0.5" y="1338" font-size="33" font-weight="bold">f</text>
<rect x="45.2" y="1407.6" width="31.4" height="296.6" fill="url(#go)" stroke="#000" stroke-width="1.43"/>
<line x1="45.2" y1="1461.8" x2="54" y2="1461.8" stroke="#000" stroke-width="1.43"/>
<line x1="67.8" y1="1461.8" x2="76.6" y2="1461.8" stroke="#000" stroke-width="1.43"/>
<line x1="45.2" y1="1583.2" x2="54" y2="1583.2" stroke="#000" stroke-width="1.43"/>
<line x1="67.8" y1="1583.2" x2="76.6" y2="1583.2" stroke="#000" stroke-width="1.43"/>
<text x="98.6" y="1471.4" font-size="26.2">10</text>
<text x="98.6" y="1593" font-size="26.2">5</text>
<text x="98.6" y="1714.6" font-size="26.2">0</text>
<text font-size="26" text-anchor="middle" transform="translate(22.4 1545.5) rotate(-90)">Lipid ROS (AU)</text>
<rect x="136.4" y="1627.5" width="39.26" height="42.1" fill="#FFF6EE" stroke="#000" stroke-width="1.32"/>
<rect x="136.4" y="1669.6" width="39.26" height="42.5" fill="#FFF6EE" stroke="#000" stroke-width="1.32"/>
<rect x="175.66" y="1627.5" width="39.26" height="42.1" fill="#FFFAF5" stroke="#000" stroke-width="1.32"/>
<rect x="175.66" y="1669.6" width="39.26" height="42.5" fill="#FFF6EE" stroke="#000" stroke-width="1.32"/>
<rect x="214.92" y="1627.5" width="39.26" height="42.1" fill="#FEEBD8" stroke="#000" stroke-width="1.32"/>
<rect x="214.92" y="1669.6" width="39.26" height="42.5" fill="#FFF8F2" stroke="#000" stroke-width="1.32"/>
<rect x="254.18" y="1627.5" width="39.26" height="42.1" fill="#FDE6D0" stroke="#000" stroke-width="1.32"/>
<rect x="254.18" y="1669.6" width="39.26" height="42.5" fill="#FFF6EC" stroke="#000" stroke-width="1.32"/>
<rect x="293.43" y="1627.5" width="39.26" height="42.1" fill="#F4C08D" stroke="#000" stroke-width="1.32"/>
<rect x="293.43" y="1669.6" width="39.26" height="42.5" fill="#F4C393" stroke="#000" stroke-width="1.32"/>
<rect x="332.69" y="1627.5" width="39.26" height="42.1" fill="#FEF3EA" stroke="#000" stroke-width="1.32"/>
<rect x="332.69" y="1669.6" width="39.26" height="42.5" fill="#FFF8F2" stroke="#000" stroke-width="1.32"/>
<rect x="371.95" y="1627.5" width="39.26" height="42.1" fill="#FFF8F2" stroke="#000" stroke-width="1.32"/>
<rect x="371.95" y="1669.6" width="39.26" height="42.5" fill="#FFF8F2" stroke="#000" stroke-width="1.32"/>
<rect x="411.21" y="1627.5" width="39.26" height="42.1" fill="#FFF8F2" stroke="#000" stroke-width="1.32"/>
<rect x="411.21" y="1669.6" width="39.26" height="42.5" fill="#FFF8F2" stroke="#000" stroke-width="1.32"/>
<rect x="450.47" y="1627.5" width="39.26" height="42.1" fill="#F7CBA0" stroke="#000" stroke-width="1.32"/>
<rect x="450.47" y="1669.6" width="39.26" height="42.5" fill="#F1B57D" stroke="#000" stroke-width="1.32"/>
<rect x="489.73" y="1627.5" width="39.26" height="42.1" fill="#F6C99C" stroke="#000" stroke-width="1.32"/>
<rect x="489.73" y="1669.6" width="39.26" height="42.5" fill="#F6C99C" stroke="#000" stroke-width="1.32"/>
<rect x="528.98" y="1627.5" width="39.26" height="42.1" fill="#F6C99D" stroke="#000" stroke-width="1.32"/>
<rect x="528.98" y="1669.6" width="39.26" height="42.5" fill="#F6C99C" stroke="#000" stroke-width="1.32"/>
<rect x="568.24" y="1627.5" width="39.26" height="42.1" fill="#F7CBA0" stroke="#000" stroke-width="1.32"/>
<rect x="568.24" y="1669.6" width="39.26" height="42.5" fill="#F8CFA6" stroke="#000" stroke-width="1.32"/>
<rect x="607.5" y="1627.5" width="39.26" height="42.1" fill="#FFF8F2" stroke="#000" stroke-width="1.32"/>
<rect x="607.5" y="1669.6" width="39.26" height="42.5" fill="#FFF8F2" stroke="#000" stroke-width="1.32"/>
<rect x="646.76" y="1627.5" width="39.26" height="42.1" fill="#FFF5EC" stroke="#000" stroke-width="1.32"/>
<rect x="646.76" y="1669.6" width="39.26" height="42.5" fill="#FFF8F2" stroke="#000" stroke-width="1.32"/>
<rect x="686.02" y="1627.5" width="39.26" height="42.1" fill="#F6C79A" stroke="#000" stroke-width="1.32"/>
<rect x="686.02" y="1669.6" width="39.26" height="42.5" fill="#F8CCA2" stroke="#000" stroke-width="1.32"/>
<rect x="725.27" y="1627.5" width="39.26" height="42.1" fill="#FFF8F2" stroke="#000" stroke-width="1.32"/>
<rect x="725.27" y="1669.6" width="39.26" height="42.5" fill="#FFF8F2" stroke="#000" stroke-width="1.32"/>
<rect x="764.53" y="1627.5" width="39.26" height="42.1" fill="#FFF6EE" stroke="#000" stroke-width="1.32"/>
<rect x="764.53" y="1669.6" width="39.26" height="42.5" fill="#FFF8F2" stroke="#000" stroke-width="1.32"/>
<rect x="803.79" y="1627.5" width="39.26" height="42.1" fill="#FFF6EE" stroke="#000" stroke-width="1.32"/>
<rect x="803.79" y="1669.6" width="39.26" height="42.5" fill="#FFF8F2" stroke="#000" stroke-width="1.32"/>
<rect x="843.05" y="1627.5" width="39.26" height="42.1" fill="#F7CA9E" stroke="#000" stroke-width="1.32"/>
<rect x="843.05" y="1669.6" width="39.26" height="42.5" fill="#F8CEA6" stroke="#000" stroke-width="1.32"/>
<rect x="882.31" y="1627.5" width="39.26" height="42.1" fill="#F5C595" stroke="#000" stroke-width="1.32"/>
<rect x="882.31" y="1669.6" width="39.26" height="42.5" fill="#F9D1AA" stroke="#000" stroke-width="1.32"/>
<rect x="921.57" y="1627.5" width="39.26" height="42.1" fill="#F5C595" stroke="#000" stroke-width="1.32"/>
<rect x="921.57" y="1669.6" width="39.26" height="42.5" fill="#F8CCA2" stroke="#000" stroke-width="1.32"/>
<rect x="960.82" y="1627.5" width="39.26" height="42.1" fill="#F6C99C" stroke="#000" stroke-width="1.32"/>
<rect x="960.82" y="1669.6" width="39.26" height="42.5" fill="#F9D0A8" stroke="#000" stroke-width="1.32"/>
<rect x="1000.08" y="1627.5" width="39.26" height="42.1" fill="#FFFAF5" stroke="#000" stroke-width="1.32"/>
<rect x="1000.08" y="1669.6" width="39.26" height="42.5" fill="#FFFAF5" stroke="#000" stroke-width="1.32"/>
<rect x="1039.34" y="1627.5" width="39.26" height="42.1" fill="#FFFAF5" stroke="#000" stroke-width="1.32"/>
<rect x="1039.34" y="1669.6" width="39.26" height="42.5" fill="#FFFAF5" stroke="#000" stroke-width="1.32"/>
<text font-size="28.2" transform="translate(161.7 1617) rotate(-90) scale(0.92 1)">Ctrl</text>
<text font-size="28.2" transform="translate(201.06 1617) rotate(-90) scale(0.92 1)">4HNE</text>
<text font-size="28.2" transform="translate(240.42 1617) rotate(-90) scale(0.92 1)">RSL3</text>
<text font-size="28.2" transform="translate(279.78 1617) rotate(-90) scale(0.92 1)">Erastin</text>
<text font-size="28.2" transform="translate(319.14 1617) rotate(-90) scale(0.92 1)">4HNE+RSL3</text>
<text font-size="28.2" transform="translate(358.5 1617) rotate(-90) scale(0.92 1)">4HNE+RSL3+<tspan fill="#006D3B">Fer-1</tspan></text>
<text font-size="28.2" transform="translate(397.86 1617) rotate(-90) scale(0.92 1)">4HNE+RSL3+<tspan fill="#006D3B">4EGI-1</tspan></text>
<text font-size="28.2" transform="translate(437.22 1617) rotate(-90) scale(0.92 1)">4HNE+RSL3+<tspan fill="#006D3B">4E1RCat</tspan></text>
<text font-size="28.2" transform="translate(476.58 1617) rotate(-90) scale(0.92 1)">4HNE+RSL3+<tspan fill="#ED1C24">ZVAD-FMK</tspan></text>
<text font-size="28.2" transform="translate(515.94 1617) rotate(-90) scale(0.92 1)">4HNE+RSL3+<tspan fill="#ED1C24">NSA</tspan> 4HNE</text>
<text font-size="28.2" transform="translate(555.3 1617) rotate(-90) scale(0.92 1)">+RSL3+<tspan fill="#ED1C24">baicalein</tspan> 4HNE</text>
<text font-size="28.2" transform="translate(594.66 1617) rotate(-90) scale(0.92 1)">+RSL3+<tspan fill="#ED1C24">zileuton</tspan> 4HNE</text>
<text font-size="28.2" transform="translate(634.02 1617) rotate(-90) scale(0.92 1)">+RSL3+<tspan fill="#006D3B">2AC</tspan> 4HNE+RSL3</text>
<text font-size="28.2" transform="translate(673.38 1617) rotate(-90) scale(0.92 1)">+<tspan fill="#006D3B">DPI</tspan> 4HNE+Erastin</text>
<text font-size="28.2" transform="translate(712.74 1617) rotate(-90) scale(0.92 1)">4HNE+Erastin+<tspan fill="#006D3B">Fer-1</tspan> 4HNE</text>
<text font-size="28.2" transform="translate(752.1 1617) rotate(-90) scale(0.92 1)">+Erastin+<tspan fill="#006D3B">4EGI-1</tspan> 4HNE</text>
<text font-size="28.2" transform="translate(791.46 1617) rotate(-90) scale(0.92 1)">+Erastin+<tspan fill="#006D3B">4E1RCat</tspan> 4HNE</text>
<text font-size="28.2" transform="translate(830.82 1617) rotate(-90) scale(0.92 1)">+Erastin+<tspan fill="#ED1C24">ZVAD-FMK</tspan> 4HNE</text>
<text font-size="28.2" transform="translate(870.18 1617) rotate(-90) scale(0.92 1)">+Erastin+<tspan fill="#ED1C24">NSA</tspan> 4HNE</text>
<text font-size="28.2" transform="translate(909.54 1617) rotate(-90) scale(0.92 1)">+Erastin+<tspan fill="#ED1C24">baicalein</tspan> 4HNE</text>
<text font-size="28.2" transform="translate(948.9 1617) rotate(-90) scale(0.92 1)">+Erastin+<tspan fill="#ED1C24">zileuton</tspan> 4HNE</text>
<text font-size="28.2" transform="translate(988.26 1617) rotate(-90) scale(0.92 1)">+Erastin+<tspan fill="#006D3B">2A C</tspan> 4HNE</text>
<text font-size="28.2" transform="translate(1027.62 1617) rotate(-90) scale(0.92 1)">+Erastin+<tspan fill="#006D3B">DPI</tspan></text>
<text x="1089.6" y="1660" font-size="26.2">HT-1080</text>
<text x="1089.6" y="1699.2" font-size="25.6">Calu-1</text>
</g>
<g id="pg">
<text x="0.8" y="1772.4" font-size="33" font-weight="bold">g</text>
<rect x="171.3" y="1751.5" width="33.2" height="15.4" fill="#56A0FB" stroke="#000" stroke-width="1.54"/>
<line x1="170.6" y1="1766.9" x2="205.2" y2="1766.9" stroke="#000" stroke-width="2.2"/>
<text x="210.4" y="1768.6" font-size="24">HT-1080</text>
<rect x="314.7" y="1751.1" width="33.2" height="15.8" fill="#FF8080" stroke="#000" stroke-width="1.54"/>
<line x1="314" y1="1766.9" x2="348.6" y2="1766.9" stroke="#000" stroke-width="2.2"/>
<text x="353.4" y="1765.9" font-size="23.2">Calu-1</text>
<rect x="123.21" y="1910.1" width="10.5" height="33.1" fill="#56A0FB" stroke="#000" stroke-width="1.54"/>
<rect x="168.09" y="1844.42" width="10.5" height="98.78" fill="#56A0FB" stroke="#000" stroke-width="1.54"/>
<rect x="212.96" y="1842.45" width="10.5" height="100.75" fill="#56A0FB" stroke="#000" stroke-width="1.54"/>
<rect x="257.84" y="1807.86" width="10.5" height="135.34" fill="#56A0FB" stroke="#000" stroke-width="1.54"/>
<rect x="302.28" y="1910.1" width="10.5" height="33.1" fill="#56A0FB" stroke="#000" stroke-width="1.54"/>
<rect x="347.16" y="1901.34" width="10.5" height="41.86" fill="#56A0FB" stroke="#000" stroke-width="1.54"/>
<rect x="392.04" y="1896.52" width="10.5" height="46.68" fill="#56A0FB" stroke="#000" stroke-width="1.54"/>
<rect x="436.91" y="1902" width="10.5" height="41.2" fill="#56A0FB" stroke="#000" stroke-width="1.54"/>
<rect x="140.07" y="1910.1" width="10.5" height="33.1" fill="#FF8080" stroke="#000" stroke-width="1.54"/>
<rect x="184.94" y="1831.51" width="10.5" height="111.69" fill="#FF8080" stroke="#000" stroke-width="1.54"/>
<rect x="229.82" y="1849.02" width="10.5" height="94.18" fill="#FF8080" stroke="#000" stroke-width="1.54"/>
<rect x="274.7" y="1841.8" width="10.5" height="101.4" fill="#FF8080" stroke="#000" stroke-width="1.54"/>
<rect x="319.57" y="1910.1" width="10.5" height="33.1" fill="#FF8080" stroke="#000" stroke-width="1.54"/>
<rect x="364.01" y="1892.15" width="10.5" height="51.05" fill="#FF8080" stroke="#000" stroke-width="1.54"/>
<rect x="408.89" y="1891.49" width="10.5" height="51.71" fill="#FF8080" stroke="#000" stroke-width="1.54"/>
<rect x="453.77" y="1905.72" width="10.5" height="37.48" fill="#FF8080" stroke="#000" stroke-width="1.54"/>
<rect x="117.5" y="1778.7" width="353.1" height="164.5" fill="none" stroke="#000" stroke-width="1.65"/>
<line x1="136.6" y1="1943.2" x2="136.6" y2="1956.2" stroke="#000" stroke-width="1.65"/>
<line x1="181" y1="1943.2" x2="181" y2="1956.2" stroke="#000" stroke-width="1.65"/>
<line x1="225.9" y1="1943.2" x2="225.9" y2="1956.2" stroke="#000" stroke-width="1.65"/>
<line x1="271.2" y1="1943.2" x2="271.2" y2="1956.2" stroke="#000" stroke-width="1.65"/>
<line x1="315.6" y1="1943.2" x2="315.6" y2="1956.2" stroke="#000" stroke-width="1.65"/>
<line x1="360.5" y1="1943.2" x2="360.5" y2="1956.2" stroke="#000" stroke-width="1.65"/>
<line x1="405.4" y1="1943.2" x2="405.4" y2="1956.2" stroke="#000" stroke-width="1.65"/>
<line x1="450.3" y1="1943.2" x2="450.3" y2="1956.2" stroke="#000" stroke-width="1.65"/>
<line x1="173.34" y1="1836.32" x2="173.34" y2="1850.55" stroke="#000" stroke-width="1.59"/>
<line x1="169.84" y1="1836.32" x2="176.84" y2="1836.32" stroke="#000" stroke-width="1.59"/>
<line x1="169.84" y1="1850.55" x2="176.84" y2="1850.55" stroke="#000" stroke-width="1.59"/>
<line x1="190.19" y1="1802.39" x2="190.19" y2="1856.02" stroke="#000" stroke-width="1.59"/>
<line x1="186.69" y1="1802.39" x2="193.69" y2="1802.39" stroke="#000" stroke-width="1.59"/>
<line x1="186.69" y1="1856.02" x2="193.69" y2="1856.02" stroke="#000" stroke-width="1.59"/>
<line x1="218.21" y1="1832.6" x2="218.21" y2="1847.27" stroke="#000" stroke-width="1.59"/>
<line x1="214.71" y1="1832.6" x2="221.71" y2="1832.6" stroke="#000" stroke-width="1.59"/>
<line x1="214.71" y1="1847.27" x2="221.71" y2="1847.27" stroke="#000" stroke-width="1.59"/>
<line x1="235.07" y1="1838.95" x2="235.07" y2="1859.31" stroke="#000" stroke-width="1.59"/>
<line x1="231.57" y1="1838.95" x2="238.57" y2="1838.95" stroke="#000" stroke-width="1.59"/>
<line x1="231.57" y1="1859.31" x2="238.57" y2="1859.31" stroke="#000" stroke-width="1.59"/>
<line x1="263.09" y1="1805.24" x2="263.09" y2="1810.05" stroke="#000" stroke-width="1.59"/>
<line x1="259.59" y1="1805.24" x2="266.59" y2="1805.24" stroke="#000" stroke-width="1.59"/>
<line x1="259.59" y1="1810.05" x2="266.59" y2="1810.05" stroke="#000" stroke-width="1.59"/>
<line x1="279.95" y1="1839.61" x2="279.95" y2="1845.08" stroke="#000" stroke-width="1.59"/>
<line x1="276.45" y1="1839.61" x2="283.45" y2="1839.61" stroke="#000" stroke-width="1.59"/>
<line x1="276.45" y1="1845.08" x2="283.45" y2="1845.08" stroke="#000" stroke-width="1.59"/>
<line x1="352.41" y1="1891.49" x2="352.41" y2="1907.47" stroke="#000" stroke-width="1.59"/>
<line x1="348.91" y1="1891.49" x2="355.91" y2="1891.49" stroke="#000" stroke-width="1.59"/>
<line x1="348.91" y1="1907.47" x2="355.91" y2="1907.47" stroke="#000" stroke-width="1.59"/>
<line x1="369.26" y1="1884.48" x2="369.26" y2="1899.81" stroke="#000" stroke-width="1.59"/>
<line x1="365.76" y1="1884.48" x2="372.76" y2="1884.48" stroke="#000" stroke-width="1.59"/>
<line x1="365.76" y1="1899.81" x2="372.76" y2="1899.81" stroke="#000" stroke-width="1.59"/>
<line x1="397.29" y1="1888.86" x2="397.29" y2="1902.43" stroke="#000" stroke-width="1.59"/>
<line x1="393.79" y1="1888.86" x2="400.79" y2="1888.86" stroke="#000" stroke-width="1.59"/>
<line x1="393.79" y1="1902.43" x2="400.79" y2="1902.43" stroke="#000" stroke-width="1.59"/>
<line x1="414.14" y1="1881.86" x2="414.14" y2="1901.34" stroke="#000" stroke-width="1.59"/>
<line x1="410.64" y1="1881.86" x2="417.64" y2="1881.86" stroke="#000" stroke-width="1.59"/>
<line x1="410.64" y1="1901.34" x2="417.64" y2="1901.34" stroke="#000" stroke-width="1.59"/>
<line x1="442.16" y1="1893.24" x2="442.16" y2="1909.66" stroke="#000" stroke-width="1.59"/>
<line x1="438.66" y1="1893.24" x2="445.66" y2="1893.24" stroke="#000" stroke-width="1.59"/>
<line x1="438.66" y1="1909.66" x2="445.66" y2="1909.66" stroke="#000" stroke-width="1.59"/>
<line x1="459.02" y1="1899.81" x2="459.02" y2="1908.56" stroke="#000" stroke-width="1.59"/>
<line x1="455.52" y1="1899.81" x2="462.52" y2="1899.81" stroke="#000" stroke-width="1.59"/>
<line x1="455.52" y1="1908.56" x2="462.52" y2="1908.56" stroke="#000" stroke-width="1.59"/>
<circle cx="124.74" cy="1910.1" r="3.2" fill="#000"/>
<circle cx="127.15" cy="1910.1" r="3.2" fill="#000"/>
<circle cx="129.77" cy="1910.1" r="3.2" fill="#000"/>
<circle cx="132.18" cy="1910.1" r="3.2" fill="#000"/>
<circle cx="141.59" cy="1910.1" r="3.2" fill="#000"/>
<circle cx="144" cy="1910.1" r="3.2" fill="#000"/>
<circle cx="146.63" cy="1910.1" r="3.2" fill="#000"/>
<circle cx="149.04" cy="1910.1" r="3.2" fill="#000"/>
<circle cx="303.81" cy="1910.1" r="3.2" fill="#000"/>
<circle cx="306.22" cy="1910.1" r="3.2" fill="#000"/>
<circle cx="308.84" cy="1910.1" r="3.2" fill="#000"/>
<circle cx="311.25" cy="1910.1" r="3.2" fill="#000"/>
<circle cx="321.1" cy="1910.1" r="3.2" fill="#000"/>
<circle cx="323.51" cy="1910.1" r="3.2" fill="#000"/>
<circle cx="326.14" cy="1910.1" r="3.2" fill="#000"/>
<circle cx="328.55" cy="1910.1" r="3.2" fill="#000"/>
<circle cx="172.9" cy="1836.32" r="3.2" fill="#000"/>
<circle cx="172.9" cy="1844.64" r="3.2" fill="#000"/>
<circle cx="172.9" cy="1850.11" r="3.2" fill="#000"/>
<circle cx="189.75" cy="1800.86" r="3.2" fill="#000"/>
<circle cx="186.47" cy="1846.61" r="3.2" fill="#000"/>
<circle cx="193.7" cy="1843.98" r="3.2" fill="#000"/>
<circle cx="218.21" cy="1832.6" r="3.2" fill="#000"/>
<circle cx="214.93" cy="1846.61" r="3.2" fill="#000"/>
<circle cx="221.5" cy="1843.98" r="3.2" fill="#000"/>
<circle cx="232.44" cy="1841.8" r="3.2" fill="#000"/>
<circle cx="238.35" cy="1843.55" r="3.2" fill="#000"/>
<circle cx="235.07" cy="1858.87" r="3.2" fill="#000"/>
<circle cx="259.81" cy="1803.92" r="3.2" fill="#000"/>
<circle cx="266.37" cy="1807.43" r="3.2" fill="#000"/>
<circle cx="260.9" cy="1810.49" r="3.2" fill="#000"/>
<circle cx="276.88" cy="1840.7" r="3.2" fill="#000"/>
<circle cx="282.79" cy="1840.7" r="3.2" fill="#000"/>
<circle cx="279.95" cy="1846.17" r="3.2" fill="#000"/>
<circle cx="352.41" cy="1891.49" r="3.2" fill="#000"/>
<circle cx="349.56" cy="1905.28" r="3.2" fill="#000"/>
<circle cx="355.69" cy="1902.65" r="3.2" fill="#000"/>
<circle cx="369.26" cy="1884.48" r="3.2" fill="#000"/>
<circle cx="369.26" cy="1891.05" r="3.2" fill="#000"/>
<circle cx="369.26" cy="1899.81" r="3.2" fill="#000"/>
<circle cx="397.29" cy="1888.86" r="3.2" fill="#000"/>
<circle cx="397.29" cy="1896.09" r="3.2" fill="#000"/>
<circle cx="397.29" cy="1902.43" r="3.2" fill="#000"/>
<circle cx="410.86" cy="1884.92" r="3.2" fill="#000"/>
<circle cx="417.43" cy="1885.58" r="3.2" fill="#000"/>
<circle cx="414.14" cy="1901.34" r="3.2" fill="#000"/>
<circle cx="439.32" cy="1896.09" r="3.2" fill="#000"/>
<circle cx="445.45" cy="1896.52" r="3.2" fill="#000"/>
<circle cx="442.16" cy="1909.66" r="3.2" fill="#000"/>
<circle cx="455.74" cy="1899.81" r="3.2" fill="#000"/>
<circle cx="462.3" cy="1903.75" r="3.2" fill="#000"/>
<circle cx="459.02" cy="1908.56" r="3.2" fill="#000"/>
<line x1="104.7" y1="1778.7" x2="117.5" y2="1778.7" stroke="#000" stroke-width="1.65"/>
<text x="99" y="1787.6" font-size="25" text-anchor="end">5</text>
<line x1="104.7" y1="1811.6" x2="117.5" y2="1811.6" stroke="#000" stroke-width="1.65"/>
<text x="99" y="1820.5" font-size="25" text-anchor="end">4</text>
<line x1="104.7" y1="1844.4" x2="117.5" y2="1844.4" stroke="#000" stroke-width="1.65"/>
<text x="99" y="1853.3" font-size="25" text-anchor="end">3</text>
<line x1="104.7" y1="1877.5" x2="117.5" y2="1877.5" stroke="#000" stroke-width="1.65"/>
<text x="99" y="1886.4" font-size="25" text-anchor="end">2</text>
<line x1="104.7" y1="1910.1" x2="117.5" y2="1910.1" stroke="#000" stroke-width="1.65"/>
<text x="99" y="1919" font-size="25" text-anchor="end">1</text>
<line x1="104.7" y1="1943.2" x2="117.5" y2="1943.2" stroke="#000" stroke-width="1.65"/>
<text x="99" y="1952.1" font-size="25" text-anchor="end">0</text>
<text font-size="26" text-anchor="middle" transform="translate(66 1853) rotate(-90)">NOX activity (AU)</text>
<text font-size="26" text-anchor="end" transform="translate(144.6 1980.3) rotate(-45)">Ctrl</text>
<text font-size="26" text-anchor="end" transform="translate(189 1979) rotate(-45)">4HNE+RSL3</text>
<text font-size="26" text-anchor="end" transform="translate(233.9 1979) rotate(-45)">4HNE+Erastin</text>
<text font-size="26" text-anchor="end" transform="translate(279.2 1982.6) rotate(-45)">IL4</text>
<text font-size="26" text-anchor="end" transform="translate(323.6 1980.3) rotate(-45)">Ctrl</text>
<text font-size="26" text-anchor="end" transform="translate(368.5 1979) rotate(-45)">4HNE+RSL3</text>
<text font-size="26" text-anchor="end" transform="translate(413.4 1979) rotate(-45)">4HNE+Erastin</text>
<text font-size="26" text-anchor="end" transform="translate(458.3 1982.6) rotate(-45)">IL4</text>
<line x1="121.9" y1="2109.4" x2="279" y2="2109.4" stroke="#000" stroke-width="1.65"/>
<line x1="312.9" y1="2109.4" x2="470.3" y2="2109.4" stroke="#000" stroke-width="1.65"/>
<text x="199" y="2138.4" font-size="26" text-anchor="middle">Ctrl si</text>
<text x="383.9" y="2138.4" font-size="26" text-anchor="middle">NOX1 si</text>
</g>
<g id="ph">
<text x="590" y="1772.6" font-size="33" font-weight="bold">h</text>
<rect x="643.2" y="1880" width="19.6" height="189" fill="url(#gb)" stroke="#000" stroke-width="1.54"/>
<line x1="643.2" y1="1930.2" x2="648.6" y2="1930.2" stroke="#000" stroke-width="1.43"/>
<line x1="657.4" y1="1930.2" x2="662.8" y2="1930.2" stroke="#000" stroke-width="1.43"/>
<line x1="643.2" y1="2000.2" x2="648.6" y2="2000.2" stroke="#000" stroke-width="1.43"/>
<line x1="657.4" y1="2000.2" x2="662.8" y2="2000.2" stroke="#000" stroke-width="1.43"/>
<text x="677" y="1936.7" font-size="14.6">1.0</text>
<text x="677" y="2006.7" font-size="14.6">0.5</text>
<text x="677" y="2075.5" font-size="14.6">0</text>
<text font-size="26" text-anchor="middle" transform="translate(627.6 1983.3) rotate(-90)">mRNA (AU)</text>
<rect x="710.6" y="1928.5" width="50.3" height="21.5" fill="#5A5AFA" stroke="#000" stroke-width="1.32"/>
<rect x="760.9" y="1928.5" width="50.3" height="21.5" fill="#3C3CFA" stroke="#000" stroke-width="1.32"/>
<rect x="811.2" y="1928.5" width="50.3" height="21.5" fill="#4545FA" stroke="#000" stroke-width="1.32"/>
<rect x="861.5" y="1928.5" width="50.3" height="21.5" fill="#5E5EFA" stroke="#000" stroke-width="1.32"/>
<rect x="911.8" y="1928.5" width="50.3" height="21.5" fill="#4848FA" stroke="#000" stroke-width="1.32"/>
<rect x="962.1" y="1928.5" width="50.3" height="21.5" fill="#3838FA" stroke="#000" stroke-width="1.32"/>
<rect x="710.6" y="1950" width="50.3" height="21.5" fill="#5A5AFA" stroke="#000" stroke-width="1.32"/>
<rect x="760.9" y="1950" width="50.3" height="21.5" fill="#2020FA" stroke="#000" stroke-width="1.32"/>
<rect x="811.2" y="1950" width="50.3" height="21.5" fill="#0A0AFF" stroke="#000" stroke-width="1.32"/>
<rect x="861.5" y="1950" width="50.3" height="21.5" fill="#5A5AFA" stroke="#000" stroke-width="1.32"/>
<rect x="911.8" y="1950" width="50.3" height="21.5" fill="#2222FA" stroke="#000" stroke-width="1.32"/>
<rect x="962.1" y="1950" width="50.3" height="21.5" fill="#1010FF" stroke="#000" stroke-width="1.32"/>
<rect x="710.6" y="1971.5" width="50.3" height="21.5" fill="#5A5AFA" stroke="#000" stroke-width="1.32"/>
<rect x="760.9" y="1971.5" width="50.3" height="21.5" fill="#4A4AFA" stroke="#000" stroke-width="1.32"/>
<rect x="811.2" y="1971.5" width="50.3" height="21.5" fill="#2828FA" stroke="#000" stroke-width="1.32"/>
<rect x="861.5" y="1971.5" width="50.3" height="21.5" fill="#5A5AFA" stroke="#000" stroke-width="1.32"/>
<rect x="911.8" y="1971.5" width="50.3" height="21.5" fill="#3C3CFA" stroke="#000" stroke-width="1.32"/>
<rect x="962.1" y="1971.5" width="50.3" height="21.5" fill="#2222FA" stroke="#000" stroke-width="1.32"/>
<rect x="710.6" y="1993" width="50.3" height="21.5" fill="#6262FA" stroke="#000" stroke-width="1.32"/>
<rect x="760.9" y="1993" width="50.3" height="21.5" fill="#9C9CFB" stroke="#000" stroke-width="1.32"/>
<rect x="811.2" y="1993" width="50.3" height="21.5" fill="#8C8CFB" stroke="#000" stroke-width="1.32"/>
<rect x="861.5" y="1993" width="50.3" height="21.5" fill="#6060FA" stroke="#000" stroke-width="1.32"/>
<rect x="911.8" y="1993" width="50.3" height="21.5" fill="#8A8AFB" stroke="#000" stroke-width="1.32"/>
<rect x="962.1" y="1993" width="50.3" height="21.5" fill="#7474FA" stroke="#000" stroke-width="1.32"/>
<rect x="710.6" y="2014.5" width="50.3" height="21.5" fill="#5A5AFA" stroke="#000" stroke-width="1.32"/>
<rect x="760.9" y="2014.5" width="50.3" height="21.5" fill="#3E3EFA" stroke="#000" stroke-width="1.32"/>
<rect x="811.2" y="2014.5" width="50.3" height="21.5" fill="#1414FF" stroke="#000" stroke-width="1.32"/>
<rect x="861.5" y="2014.5" width="50.3" height="21.5" fill="#5A5AFA" stroke="#000" stroke-width="1.32"/>
<rect x="911.8" y="2014.5" width="50.3" height="21.5" fill="#3A3AFA" stroke="#000" stroke-width="1.32"/>
<rect x="962.1" y="2014.5" width="50.3" height="21.5" fill="#3030FA" stroke="#000" stroke-width="1.32"/>
<rect x="710.6" y="2036" width="50.3" height="21.5" fill="#5A5AFA" stroke="#000" stroke-width="1.32"/>
<rect x="760.9" y="2036" width="50.3" height="21.5" fill="#2424FA" stroke="#000" stroke-width="1.32"/>
<rect x="811.2" y="2036" width="50.3" height="21.5" fill="#2222FA" stroke="#000" stroke-width="1.32"/>
<rect x="861.5" y="2036" width="50.3" height="21.5" fill="#5A5AFA" stroke="#000" stroke-width="1.32"/>
<rect x="911.8" y="2036" width="50.3" height="21.5" fill="#0505FF" stroke="#000" stroke-width="1.32"/>
<rect x="962.1" y="2036" width="50.3" height="21.5" fill="#2828FA" stroke="#000" stroke-width="1.32"/>
<rect x="710.6" y="2057.5" width="50.3" height="21.5" fill="#5A5AFA" stroke="#000" stroke-width="1.32"/>
<rect x="760.9" y="2057.5" width="50.3" height="21.5" fill="#3030FA" stroke="#000" stroke-width="1.32"/>
<rect x="811.2" y="2057.5" width="50.3" height="21.5" fill="#4646FA" stroke="#000" stroke-width="1.32"/>
<rect x="861.5" y="2057.5" width="50.3" height="21.5" fill="#5C5CFA" stroke="#000" stroke-width="1.32"/>
<rect x="911.8" y="2057.5" width="50.3" height="21.5" fill="#5A5AFA" stroke="#000" stroke-width="1.32"/>
<rect x="962.1" y="2057.5" width="50.3" height="21.5" fill="#3A3AFA" stroke="#000" stroke-width="1.32"/>
<rect x="710.6" y="1928.5" width="301.8" height="150.5" fill="none" stroke="#000" stroke-width="1.65"/>
<line x1="735.75" y1="1919.4" x2="735.75" y2="1928.5" stroke="#000" stroke-width="1.54"/>
<text font-size="26" transform="translate(736.35 1915.5) rotate(-45)">Ctrl</text>
<line x1="786.05" y1="1919.4" x2="786.05" y2="1928.5" stroke="#000" stroke-width="1.54"/>
<text font-size="26" transform="translate(786.65 1915.5) rotate(-45)">4HNE+RSL3</text>
<line x1="836.35" y1="1919.4" x2="836.35" y2="1928.5" stroke="#000" stroke-width="1.54"/>
<text font-size="26" transform="translate(836.95 1915.5) rotate(-45)">4HNE+Erastin</text>
<line x1="886.65" y1="1919.4" x2="886.65" y2="1928.5" stroke="#000" stroke-width="1.54"/>
<text font-size="26" transform="translate(887.25 1915.5) rotate(-45)">Ctrl</text>
<line x1="936.95" y1="1919.4" x2="936.95" y2="1928.5" stroke="#000" stroke-width="1.54"/>
<text font-size="26" transform="translate(937.55 1915.5) rotate(-45)">4HNE+RSL3</text>
<line x1="987.25" y1="1919.4" x2="987.25" y2="1928.5" stroke="#000" stroke-width="1.54"/>
<text font-size="26" transform="translate(987.85 1915.5) rotate(-45)">4HNE+Erastin</text>
<line x1="1012.4" y1="1939.25" x2="1020.8" y2="1939.25" stroke="#000" stroke-width="1.54"/>
<text x="1024.2" y="1945" font-size="25.7">NOX1</text>
<line x1="1012.4" y1="1960.75" x2="1020.8" y2="1960.75" stroke="#000" stroke-width="1.54"/>
<text x="1024.2" y="1967.3" font-size="25.7">CYBB</text>
<line x1="1012.4" y1="1982.25" x2="1020.8" y2="1982.25" stroke="#000" stroke-width="1.54"/>
<text x="1024.2" y="1989.6" font-size="25.7">SLC7A11</text>
<line x1="1012.4" y1="2003.75" x2="1020.8" y2="2003.75" stroke="#000" stroke-width="1.54"/>
<text x="1024.2" y="2011.9" font-size="25.7">GPX4</text>
<line x1="1012.4" y1="2025.25" x2="1020.8" y2="2025.25" stroke="#000" stroke-width="1.54"/>
<text x="1024.2" y="2034.2" font-size="25.7">AIFM2</text>
<line x1="1012.4" y1="2046.75" x2="1020.8" y2="2046.75" stroke="#000" stroke-width="1.54"/>
<text x="1024.2" y="2056.5" font-size="25.7">ACSL4</text>
<line x1="1012.4" y1="2068.25" x2="1020.8" y2="2068.25" stroke="#000" stroke-width="1.54"/>
<text x="1024.2" y="2078.8" font-size="25.7">POR</text>
<line x1="710.6" y1="2091.3" x2="861.1" y2="2091.3" stroke="#000" stroke-width="1.65"/>
<line x1="866" y1="2091.3" x2="1011.7" y2="2091.3" stroke="#000" stroke-width="1.65"/>
<text x="790.8" y="2120.3" font-size="24.3" text-anchor="middle">HT-1080</text>
<text x="935.2" y="2117.3" font-size="23.5" text-anchor="middle">Calu-1</text>
</g>
<g id="pi">
<text x="1231" y="874" font-size="33" font-weight="bold">i</text>
<rect x="1420.9" y="869.8" width="33.2" height="15.4" fill="#56A0FB" stroke="#000" stroke-width="1.54"/>
<line x1="1420.2" y1="885.2" x2="1454.8" y2="885.2" stroke="#000" stroke-width="2.2"/>
<text x="1459.6" y="887.5" font-size="24">HT-1080</text>
<rect x="1563.9" y="869.4" width="33.2" height="15.8" fill="#FF8080" stroke="#000" stroke-width="1.54"/>
<line x1="1563.2" y1="885.2" x2="1597.8" y2="885.2" stroke="#000" stroke-width="2.2"/>
<text x="1602.8" y="884.1" font-size="23.2">Calu-1</text>
<rect x="1379.69" y="952.84" width="21.6" height="109.46" fill="#56A0FB" stroke="#000" stroke-width="1.54"/>
<rect x="1470.93" y="1041.8" width="21.6" height="20.5" fill="#56A0FB" stroke="#000" stroke-width="1.54"/>
<rect x="1561.71" y="952.84" width="21.6" height="109.46" fill="#56A0FB" stroke="#000" stroke-width="1.54"/>
<rect x="1652.95" y="1046.59" width="21.6" height="15.71" fill="#56A0FB" stroke="#000" stroke-width="1.54"/>
<rect x="1413.9" y="952.84" width="21.6" height="109.46" fill="#FF8080" stroke="#000" stroke-width="1.54"/>
<rect x="1505.14" y="1039.74" width="21.6" height="22.56" fill="#FF8080" stroke="#000" stroke-width="1.54"/>
<rect x="1595.93" y="952.84" width="21.6" height="109.46" fill="#FF8080" stroke="#000" stroke-width="1.54"/>
<rect x="1687.17" y="1039.74" width="21.6" height="22.56" fill="#FF8080" stroke="#000" stroke-width="1.54"/>
<rect x="1368.2" y="897.6" width="353.6" height="164.7" fill="none" stroke="#000" stroke-width="1.65"/>
<line x1="1407.5" y1="1062.3" x2="1407.5" y2="1075.6" stroke="#000" stroke-width="1.65"/>
<line x1="1498.7" y1="1062.3" x2="1498.7" y2="1075.6" stroke="#000" stroke-width="1.65"/>
<line x1="1589.5" y1="1062.3" x2="1589.5" y2="1075.6" stroke="#000" stroke-width="1.65"/>
<line x1="1680.8" y1="1062.3" x2="1680.8" y2="1075.6" stroke="#000" stroke-width="1.65"/>
<line x1="1481.73" y1="1035.64" x2="1481.73" y2="1043.62" stroke="#000" stroke-width="1.59"/>
<line x1="1476.73" y1="1035.64" x2="1486.73" y2="1035.64" stroke="#000" stroke-width="1.59"/>
<line x1="1476.73" y1="1043.62" x2="1486.73" y2="1043.62" stroke="#000" stroke-width="1.59"/>
<line x1="1515.94" y1="1034.5" x2="1515.94" y2="1044.76" stroke="#000" stroke-width="1.59"/>
<line x1="1510.94" y1="1034.5" x2="1520.94" y2="1034.5" stroke="#000" stroke-width="1.59"/>
<line x1="1510.94" y1="1044.76" x2="1520.94" y2="1044.76" stroke="#000" stroke-width="1.59"/>
<line x1="1663.75" y1="1042.48" x2="1663.75" y2="1047.5" stroke="#000" stroke-width="1.59"/>
<line x1="1658.75" y1="1042.48" x2="1668.75" y2="1042.48" stroke="#000" stroke-width="1.59"/>
<line x1="1658.75" y1="1047.5" x2="1668.75" y2="1047.5" stroke="#000" stroke-width="1.59"/>
<line x1="1697.97" y1="1031.08" x2="1697.97" y2="1043.62" stroke="#000" stroke-width="1.59"/>
<line x1="1692.97" y1="1031.08" x2="1702.97" y2="1031.08" stroke="#000" stroke-width="1.59"/>
<line x1="1692.97" y1="1043.62" x2="1702.97" y2="1043.62" stroke="#000" stroke-width="1.59"/>
<circle cx="1381.36" cy="952.84" r="3.2" fill="#000"/>
<circle cx="1390.49" cy="952.84" r="3.2" fill="#000"/>
<circle cx="1399.61" cy="952.84" r="3.2" fill="#000"/>
<circle cx="1415.58" cy="952.84" r="3.2" fill="#000"/>
<circle cx="1424.7" cy="952.84" r="3.2" fill="#000"/>
<circle cx="1433.83" cy="952.84" r="3.2" fill="#000"/>
<circle cx="1563.39" cy="952.84" r="3.2" fill="#000"/>
<circle cx="1572.51" cy="952.84" r="3.2" fill="#000"/>
<circle cx="1581.64" cy="952.84" r="3.2" fill="#000"/>
<circle cx="1597.6" cy="952.84" r="3.2" fill="#000"/>
<circle cx="1606.73" cy="952.84" r="3.2" fill="#000"/>
<circle cx="1615.85" cy="952.84" r="3.2" fill="#000"/>
<circle cx="1481.61" cy="1037.24" r="3.2" fill="#000"/>
<circle cx="1476.6" cy="1043.17" r="3.2" fill="#000"/>
<circle cx="1486.86" cy="1043.17" r="3.2" fill="#000"/>
<circle cx="1510.81" cy="1035.18" r="3.2" fill="#000"/>
<circle cx="1519.94" cy="1036.32" r="3.2" fill="#000"/>
<circle cx="1515.83" cy="1044.31" r="3.2" fill="#000"/>
<circle cx="1654.52" cy="1047.5" r="3.2" fill="#000"/>
<circle cx="1664.1" cy="1043.17" r="3.2" fill="#000"/>
<circle cx="1672.76" cy="1043.62" r="3.2" fill="#000"/>
<circle cx="1697.86" cy="1030.62" r="3.2" fill="#000"/>
<circle cx="1693.29" cy="1042.48" r="3.2" fill="#000"/>
<circle cx="1702.42" cy="1042.48" r="3.2" fill="#000"/>
<line x1="1544.6" y1="897.6" x2="1544.6" y2="1062.3" stroke="#000" stroke-width="1.65"/>
<line x1="1355.4" y1="897.6" x2="1368.2" y2="897.6" stroke="#000" stroke-width="1.65"/>
<text x="1350.7" y="906.5" font-size="25" text-anchor="end">1.5</text>
<line x1="1355.4" y1="952.8" x2="1368.2" y2="952.8" stroke="#000" stroke-width="1.65"/>
<text x="1350.7" y="961.7" font-size="25" text-anchor="end">1.0</text>
<line x1="1355.4" y1="1007.8" x2="1368.2" y2="1007.8" stroke="#000" stroke-width="1.65"/>
<text x="1350.7" y="1016.7" font-size="25" text-anchor="end">0.5</text>
<line x1="1355.4" y1="1062.3" x2="1368.2" y2="1062.3" stroke="#000" stroke-width="1.65"/>
<text x="1350.7" y="1071.2" font-size="25" text-anchor="end">0.0</text>
<text x="1459.8" y="927.3" font-size="26" text-anchor="middle">NOX1</text>
<text x="1638.8" y="925" font-size="26" text-anchor="middle">NOX2</text>
<text x="1365" y="1102.9" font-size="26">Ctrl si</text>
<text x="1450.6" y="1102.9" font-size="26">NOX1 si</text>
<text x="1561.2" y="1101.3" font-size="26">Ctrl si</text>
<text x="1650.3" y="1101.3" font-size="26">CYBB si</text>
<text font-size="26" text-anchor="middle" transform="translate(1295.6 984.5) rotate(-90)">mRNA (AU)</text>
</g>
<g id="pj">
<text x="1229.5" y="1248.2" font-size="33" font-weight="bold">j</text>
<rect x="1426.5" y="1241" width="33.2" height="15.4" fill="#56A0FB" stroke="#000" stroke-width="1.54"/>
<line x1="1425.8" y1="1256.4" x2="1460.4" y2="1256.4" stroke="#000" stroke-width="2.2"/>
<text x="1465.2" y="1258.2" font-size="24">HT-1080</text>
<rect x="1569.6" y="1240.6" width="33.2" height="15.8" fill="#FF8080" stroke="#000" stroke-width="1.54"/>
<line x1="1568.9" y1="1256.4" x2="1603.5" y2="1256.4" stroke="#000" stroke-width="2.2"/>
<text x="1608.2" y="1254.8" font-size="23.2">Calu-1</text>
<rect x="1373.71" y="1430.27" width="8.7" height="3.93" fill="#56A0FB" stroke="#000" stroke-width="1.54"/>
<rect x="1413.4" y="1348.61" width="8.7" height="85.59" fill="#56A0FB" stroke="#000" stroke-width="1.54"/>
<rect x="1453.31" y="1334.93" width="8.7" height="99.27" fill="#56A0FB" stroke="#000" stroke-width="1.54"/>
<rect x="1493.23" y="1427.31" width="8.7" height="6.89" fill="#56A0FB" stroke="#000" stroke-width="1.54"/>
<rect x="1532.69" y="1416.59" width="8.7" height="17.61" fill="#56A0FB" stroke="#000" stroke-width="1.54"/>
<rect x="1572.61" y="1413.17" width="8.7" height="21.03" fill="#56A0FB" stroke="#000" stroke-width="1.54"/>
<rect x="1612.53" y="1431.41" width="8.7" height="2.79" fill="#56A0FB" stroke="#000" stroke-width="1.54"/>
<rect x="1651.99" y="1341.77" width="8.7" height="92.43" fill="#56A0FB" stroke="#000" stroke-width="1.54"/>
<rect x="1691.91" y="1344.74" width="8.7" height="89.46" fill="#56A0FB" stroke="#000" stroke-width="1.54"/>
<rect x="1388.31" y="1429.59" width="8.7" height="4.61" fill="#FF8080" stroke="#000" stroke-width="1.54"/>
<rect x="1427.99" y="1334.93" width="8.7" height="99.27" fill="#FF8080" stroke="#000" stroke-width="1.54"/>
<rect x="1467.91" y="1314.4" width="8.7" height="119.8" fill="#FF8080" stroke="#000" stroke-width="1.54"/>
<rect x="1507.6" y="1427.31" width="8.7" height="6.89" fill="#FF8080" stroke="#000" stroke-width="1.54"/>
<rect x="1547.52" y="1420.47" width="8.7" height="13.73" fill="#FF8080" stroke="#000" stroke-width="1.54"/>
<rect x="1587.44" y="1419.32" width="8.7" height="14.88" fill="#FF8080" stroke="#000" stroke-width="1.54"/>
<rect x="1627.13" y="1430.27" width="8.7" height="3.93" fill="#FF8080" stroke="#000" stroke-width="1.54"/>
<rect x="1666.82" y="1334.24" width="8.7" height="99.96" fill="#FF8080" stroke="#000" stroke-width="1.54"/>
<rect x="1706.74" y="1325.35" width="8.7" height="108.85" fill="#FF8080" stroke="#000" stroke-width="1.54"/>
<rect x="1368.2" y="1269.9" width="353.6" height="164.3" fill="none" stroke="#000" stroke-width="1.65"/>
<line x1="1384.7" y1="1434.2" x2="1384.7" y2="1447.4" stroke="#000" stroke-width="1.65"/>
<line x1="1424.6" y1="1434.2" x2="1424.6" y2="1447.4" stroke="#000" stroke-width="1.65"/>
<line x1="1464.5" y1="1434.2" x2="1464.5" y2="1447.4" stroke="#000" stroke-width="1.65"/>
<line x1="1504.2" y1="1434.2" x2="1504.2" y2="1447.4" stroke="#000" stroke-width="1.65"/>
<line x1="1543.9" y1="1434.2" x2="1543.9" y2="1447.4" stroke="#000" stroke-width="1.65"/>
<line x1="1583.8" y1="1434.2" x2="1583.8" y2="1447.4" stroke="#000" stroke-width="1.65"/>
<line x1="1623.7" y1="1434.2" x2="1623.7" y2="1447.4" stroke="#000" stroke-width="1.65"/>
<line x1="1663.2" y1="1434.2" x2="1663.2" y2="1447.4" stroke="#000" stroke-width="1.65"/>
<line x1="1703.1" y1="1434.2" x2="1703.1" y2="1447.4" stroke="#000" stroke-width="1.65"/>
<line x1="1417.75" y1="1333.79" x2="1417.75" y2="1362.3" stroke="#000" stroke-width="1.59"/>
<line x1="1414.5" y1="1333.79" x2="1421" y2="1333.79" stroke="#000" stroke-width="1.59"/>
<line x1="1414.5" y1="1362.3" x2="1421" y2="1362.3" stroke="#000" stroke-width="1.59"/>
<line x1="1432.34" y1="1325.35" x2="1432.34" y2="1342.91" stroke="#000" stroke-width="1.59"/>
<line x1="1429.09" y1="1325.35" x2="1435.59" y2="1325.35" stroke="#000" stroke-width="1.59"/>
<line x1="1429.09" y1="1342.91" x2="1435.59" y2="1342.91" stroke="#000" stroke-width="1.59"/>
<line x1="1457.66" y1="1318.96" x2="1457.66" y2="1347.47" stroke="#000" stroke-width="1.59"/>
<line x1="1454.41" y1="1318.96" x2="1460.91" y2="1318.96" stroke="#000" stroke-width="1.59"/>
<line x1="1454.41" y1="1347.47" x2="1460.91" y2="1347.47" stroke="#000" stroke-width="1.59"/>
<line x1="1472.26" y1="1300.71" x2="1472.26" y2="1323.52" stroke="#000" stroke-width="1.59"/>
<line x1="1469.01" y1="1300.71" x2="1475.51" y2="1300.71" stroke="#000" stroke-width="1.59"/>
<line x1="1469.01" y1="1323.52" x2="1475.51" y2="1323.52" stroke="#000" stroke-width="1.59"/>
<line x1="1537.04" y1="1407.92" x2="1537.04" y2="1422.75" stroke="#000" stroke-width="1.59"/>
<line x1="1533.79" y1="1407.92" x2="1540.29" y2="1407.92" stroke="#000" stroke-width="1.59"/>
<line x1="1533.79" y1="1422.75" x2="1540.29" y2="1422.75" stroke="#000" stroke-width="1.59"/>
<line x1="1551.87" y1="1416.59" x2="1551.87" y2="1423.43" stroke="#000" stroke-width="1.59"/>
<line x1="1548.62" y1="1416.59" x2="1555.12" y2="1416.59" stroke="#000" stroke-width="1.59"/>
<line x1="1548.62" y1="1423.43" x2="1555.12" y2="1423.43" stroke="#000" stroke-width="1.59"/>
<line x1="1576.96" y1="1401.08" x2="1576.96" y2="1424.57" stroke="#000" stroke-width="1.59"/>
<line x1="1573.71" y1="1401.08" x2="1580.21" y2="1401.08" stroke="#000" stroke-width="1.59"/>
<line x1="1573.71" y1="1424.57" x2="1580.21" y2="1424.57" stroke="#000" stroke-width="1.59"/>
<line x1="1591.79" y1="1412.03" x2="1591.79" y2="1422.75" stroke="#000" stroke-width="1.59"/>
<line x1="1588.54" y1="1412.03" x2="1595.04" y2="1412.03" stroke="#000" stroke-width="1.59"/>
<line x1="1588.54" y1="1422.75" x2="1595.04" y2="1422.75" stroke="#000" stroke-width="1.59"/>
<line x1="1656.34" y1="1323.52" x2="1656.34" y2="1358.88" stroke="#000" stroke-width="1.59"/>
<line x1="1653.09" y1="1323.52" x2="1659.59" y2="1323.52" stroke="#000" stroke-width="1.59"/>
<line x1="1653.09" y1="1358.88" x2="1659.59" y2="1358.88" stroke="#000" stroke-width="1.59"/>
<line x1="1671.17" y1="1318.96" x2="1671.17" y2="1345.19" stroke="#000" stroke-width="1.59"/>
<line x1="1667.92" y1="1318.96" x2="1674.42" y2="1318.96" stroke="#000" stroke-width="1.59"/>
<line x1="1667.92" y1="1345.19" x2="1674.42" y2="1345.19" stroke="#000" stroke-width="1.59"/>
<line x1="1696.26" y1="1329.68" x2="1696.26" y2="1361.16" stroke="#000" stroke-width="1.59"/>
<line x1="1693.01" y1="1329.68" x2="1699.51" y2="1329.68" stroke="#000" stroke-width="1.59"/>
<line x1="1693.01" y1="1361.16" x2="1699.51" y2="1361.16" stroke="#000" stroke-width="1.59"/>
<line x1="1711.09" y1="1302.99" x2="1711.09" y2="1342.91" stroke="#000" stroke-width="1.59"/>
<line x1="1707.84" y1="1302.99" x2="1714.34" y2="1302.99" stroke="#000" stroke-width="1.59"/>
<line x1="1707.84" y1="1342.91" x2="1714.34" y2="1342.91" stroke="#000" stroke-width="1.59"/>
<line x1="1378.06" y1="1425.71" x2="1378.06" y2="1430.73" stroke="#000" stroke-width="1.59"/>
<line x1="1374.81" y1="1425.71" x2="1381.31" y2="1425.71" stroke="#000" stroke-width="1.59"/>
<line x1="1374.81" y1="1430.73" x2="1381.31" y2="1430.73" stroke="#000" stroke-width="1.59"/>
<line x1="1392.66" y1="1424.57" x2="1392.66" y2="1432.1" stroke="#000" stroke-width="1.59"/>
<line x1="1389.41" y1="1424.57" x2="1395.91" y2="1424.57" stroke="#000" stroke-width="1.59"/>
<line x1="1389.41" y1="1432.1" x2="1395.91" y2="1432.1" stroke="#000" stroke-width="1.59"/>
<line x1="1497.58" y1="1423.89" x2="1497.58" y2="1430.73" stroke="#000" stroke-width="1.59"/>
<line x1="1494.33" y1="1423.89" x2="1500.83" y2="1423.89" stroke="#000" stroke-width="1.59"/>
<line x1="1494.33" y1="1430.73" x2="1500.83" y2="1430.73" stroke="#000" stroke-width="1.59"/>
<line x1="1511.95" y1="1422.75" x2="1511.95" y2="1431.19" stroke="#000" stroke-width="1.59"/>
<line x1="1508.7" y1="1422.75" x2="1515.2" y2="1422.75" stroke="#000" stroke-width="1.59"/>
<line x1="1508.7" y1="1431.19" x2="1515.2" y2="1431.19" stroke="#000" stroke-width="1.59"/>
<line x1="1631.48" y1="1424.34" x2="1631.48" y2="1432.1" stroke="#000" stroke-width="1.59"/>
<line x1="1628.23" y1="1424.34" x2="1634.73" y2="1424.34" stroke="#000" stroke-width="1.59"/>
<line x1="1628.23" y1="1432.1" x2="1634.73" y2="1432.1" stroke="#000" stroke-width="1.59"/>
<circle cx="1377.37" cy="1426.17" r="3.2" fill="#000"/>
<circle cx="1374.64" cy="1430.27" r="3.2" fill="#000"/>
<circle cx="1380.34" cy="1429.13" r="3.2" fill="#000"/>
<circle cx="1389.92" cy="1424.57" r="3.2" fill="#000"/>
<circle cx="1395.62" cy="1428.45" r="3.2" fill="#000"/>
<circle cx="1390.6" cy="1431.87" r="3.2" fill="#000"/>
<circle cx="1415.01" cy="1337.66" r="3.2" fill="#000"/>
<circle cx="1420.26" cy="1342.23" r="3.2" fill="#000"/>
<circle cx="1417.29" cy="1362.3" r="3.2" fill="#000"/>
<circle cx="1432.12" cy="1325.35" r="3.2" fill="#000"/>
<circle cx="1432.12" cy="1334.93" r="3.2" fill="#000"/>
<circle cx="1432.12" cy="1341.77" r="3.2" fill="#000"/>
<circle cx="1457.21" cy="1318.96" r="3.2" fill="#000"/>
<circle cx="1459.03" cy="1336.07" r="3.2" fill="#000"/>
<circle cx="1457.21" cy="1346.33" r="3.2" fill="#000"/>
<circle cx="1472.03" cy="1300.71" r="3.2" fill="#000"/>
<circle cx="1472.03" cy="1315.54" r="3.2" fill="#000"/>
<circle cx="1472.03" cy="1323.52" r="3.2" fill="#000"/>
<circle cx="1494.39" cy="1424.34" r="3.2" fill="#000"/>
<circle cx="1499.41" cy="1426.17" r="3.2" fill="#000"/>
<circle cx="1494.39" cy="1430.73" r="3.2" fill="#000"/>
<circle cx="1509.67" cy="1422.75" r="3.2" fill="#000"/>
<circle cx="1514.69" cy="1426.17" r="3.2" fill="#000"/>
<circle cx="1509.67" cy="1430.73" r="3.2" fill="#000"/>
<circle cx="1536.59" cy="1407.92" r="3.2" fill="#000"/>
<circle cx="1536.59" cy="1417.04" r="3.2" fill="#000"/>
<circle cx="1536.59" cy="1422.75" r="3.2" fill="#000"/>
<circle cx="1549.13" cy="1416.59" r="3.2" fill="#000"/>
<circle cx="1554.15" cy="1420.01" r="3.2" fill="#000"/>
<circle cx="1549.59" cy="1422.75" r="3.2" fill="#000"/>
<circle cx="1574.68" cy="1404.04" r="3.2" fill="#000"/>
<circle cx="1579.24" cy="1407.92" r="3.2" fill="#000"/>
<circle cx="1576.51" cy="1424.57" r="3.2" fill="#000"/>
<circle cx="1591.79" cy="1412.03" r="3.2" fill="#000"/>
<circle cx="1594.07" cy="1418.18" r="3.2" fill="#000"/>
<circle cx="1588.82" cy="1422.29" r="3.2" fill="#000"/>
<circle cx="1614.14" cy="1431.87" r="3.2" fill="#000"/>
<circle cx="1618.7" cy="1430.73" r="3.2" fill="#000"/>
<circle cx="1616.42" cy="1430.27" r="3.2" fill="#000"/>
<circle cx="1628.74" cy="1424.57" r="3.2" fill="#000"/>
<circle cx="1633.99" cy="1429.13" r="3.2" fill="#000"/>
<circle cx="1628.74" cy="1431.87" r="3.2" fill="#000"/>
<circle cx="1656.34" cy="1323.52" r="3.2" fill="#000"/>
<circle cx="1656.34" cy="1340.63" r="3.2" fill="#000"/>
<circle cx="1656.34" cy="1358.42" r="3.2" fill="#000"/>
<circle cx="1671.17" cy="1318.96" r="3.2" fill="#000"/>
<circle cx="1668.2" cy="1340.17" r="3.2" fill="#000"/>
<circle cx="1673.91" cy="1340.17" r="3.2" fill="#000"/>
<circle cx="1696.26" cy="1329.68" r="3.2" fill="#000"/>
<circle cx="1696.26" cy="1340.63" r="3.2" fill="#000"/>
<circle cx="1696.26" cy="1360.7" r="3.2" fill="#000"/>
<circle cx="1710.86" cy="1302.99" r="3.2" fill="#000"/>
<circle cx="1708.12" cy="1335.61" r="3.2" fill="#000"/>
<circle cx="1713.82" cy="1333.79" r="3.2" fill="#000"/>
<line x1="1355.4" y1="1269.9" x2="1368.2" y2="1269.9" stroke="#000" stroke-width="1.65"/>
<text x="1349.2" y="1278.8" font-size="25" text-anchor="end">80</text>
<line x1="1355.4" y1="1311" x2="1368.2" y2="1311" stroke="#000" stroke-width="1.65"/>
<text x="1349.2" y="1319.9" font-size="25" text-anchor="end">60</text>
<line x1="1355.4" y1="1352.5" x2="1368.2" y2="1352.5" stroke="#000" stroke-width="1.65"/>
<text x="1349.2" y="1361.4" font-size="25" text-anchor="end">40</text>
<line x1="1355.4" y1="1393.1" x2="1368.2" y2="1393.1" stroke="#000" stroke-width="1.65"/>
<text x="1349.2" y="1402" font-size="25" text-anchor="end">20</text>
<line x1="1355.4" y1="1434.2" x2="1368.2" y2="1434.2" stroke="#000" stroke-width="1.65"/>
<text x="1349.2" y="1443.1" font-size="25" text-anchor="end">0</text>
<text font-size="26" text-anchor="middle" transform="translate(1303 1355.3) rotate(-90)">Cell death (%)</text>
<text font-size="26.5" text-anchor="end" transform="translate(1393.7 1471.6) rotate(-45)">Ctrl</text>
<text font-size="26.5" text-anchor="end" transform="translate(1433.6 1471.4) rotate(-45)">4HNE+RSL3</text>
<text font-size="26.5" text-anchor="end" transform="translate(1473.5 1471.4) rotate(-45)">4HNE+Erastin</text>
<text font-size="26.5" text-anchor="end" transform="translate(1513.2 1471.6) rotate(-45)">Ctrl</text>
<text font-size="26.5" text-anchor="end" transform="translate(1552.9 1471.4) rotate(-45)">4HNE+RSL3</text>
<text font-size="26.5" text-anchor="end" transform="translate(1592.8 1471.4) rotate(-45)">4HNE+Erastin</text>
<text font-size="26.5" text-anchor="end" transform="translate(1632.7 1471.6) rotate(-45)">Ctrl</text>
<text font-size="26.5" text-anchor="end" transform="translate(1672.2 1471.4) rotate(-45)">4HNE+RSL3</text>
<text font-size="26.5" text-anchor="end" transform="translate(1712.1 1471.4) rotate(-45)">4HNE+Erastin</text>
<line x1="1376.6" y1="1599.4" x2="1476" y2="1599.4" stroke="#000" stroke-width="1.65"/>
<line x1="1498.2" y1="1599.4" x2="1597.2" y2="1599.4" stroke="#000" stroke-width="1.65"/>
<line x1="1619.4" y1="1599.4" x2="1719" y2="1599.4" stroke="#000" stroke-width="1.65"/>
<text x="1423.9" y="1628.5" font-size="26" text-anchor="middle">Ctrl si</text>
<text x="1551.2" y="1628.5" font-size="26" text-anchor="middle">NOX1 si</text>
<text x="1665.4" y="1627" font-size="26" text-anchor="middle">CYBB si</text>
</g>
<g id="pk">
<text x="1231" y="1772.2" font-size="33" font-weight="bold">k</text>
<rect x="1426.5" y="1751.5" width="33.2" height="15.4" fill="#56A0FB" stroke="#000" stroke-width="1.54"/>
<line x1="1425.8" y1="1766.9" x2="1460.4" y2="1766.9" stroke="#000" stroke-width="2.2"/>
<text x="1465.2" y="1768.6" font-size="24">HT-1080</text>
<rect x="1569.6" y="1751.1" width="33.2" height="15.8" fill="#FF8080" stroke="#000" stroke-width="1.54"/>
<line x1="1568.9" y1="1766.9" x2="1603.5" y2="1766.9" stroke="#000" stroke-width="2.2"/>
<text x="1608.2" y="1765.2" font-size="23.2">Calu-1</text>
<rect x="1373.71" y="1927.04" width="8.7" height="14.86" fill="#56A0FB" stroke="#000" stroke-width="1.54"/>
<rect x="1413.4" y="1849.03" width="8.7" height="92.87" fill="#56A0FB" stroke="#000" stroke-width="1.54"/>
<rect x="1453.31" y="1835.8" width="8.7" height="106.1" fill="#56A0FB" stroke="#000" stroke-width="1.54"/>
<rect x="1493.23" y="1928.87" width="8.7" height="13.03" fill="#56A0FB" stroke="#000" stroke-width="1.54"/>
<rect x="1532.69" y="1916.32" width="8.7" height="25.58" fill="#56A0FB" stroke="#000" stroke-width="1.54"/>
<rect x="1572.61" y="1916.32" width="8.7" height="25.58" fill="#56A0FB" stroke="#000" stroke-width="1.54"/>
<rect x="1612.53" y="1929.32" width="8.7" height="12.58" fill="#56A0FB" stroke="#000" stroke-width="1.54"/>
<rect x="1651.99" y="1855.19" width="8.7" height="86.71" fill="#56A0FB" stroke="#000" stroke-width="1.54"/>
<rect x="1691.91" y="1833.07" width="8.7" height="108.83" fill="#56A0FB" stroke="#000" stroke-width="1.54"/>
<rect x="1388.31" y="1927.04" width="8.7" height="14.86" fill="#FF8080" stroke="#000" stroke-width="1.54"/>
<rect x="1427.99" y="1814.82" width="8.7" height="127.08" fill="#FF8080" stroke="#000" stroke-width="1.54"/>
<rect x="1467.91" y="1833.07" width="8.7" height="108.83" fill="#FF8080" stroke="#000" stroke-width="1.54"/>
<rect x="1507.6" y="1928.87" width="8.7" height="13.03" fill="#FF8080" stroke="#000" stroke-width="1.54"/>
<rect x="1547.52" y="1900.81" width="8.7" height="41.09" fill="#FF8080" stroke="#000" stroke-width="1.54"/>
<rect x="1587.44" y="1920.2" width="8.7" height="21.7" fill="#FF8080" stroke="#000" stroke-width="1.54"/>
<rect x="1627.13" y="1927.04" width="8.7" height="14.86" fill="#FF8080" stroke="#000" stroke-width="1.54"/>
<rect x="1666.82" y="1859.3" width="8.7" height="82.6" fill="#FF8080" stroke="#000" stroke-width="1.54"/>
<rect x="1706.74" y="1839.22" width="8.7" height="102.68" fill="#FF8080" stroke="#000" stroke-width="1.54"/>
<rect x="1368.2" y="1777.2" width="353.6" height="164.7" fill="none" stroke="#000" stroke-width="1.65"/>
<line x1="1384.7" y1="1941.9" x2="1384.7" y2="1955.1" stroke="#000" stroke-width="1.65"/>
<line x1="1424.6" y1="1941.9" x2="1424.6" y2="1955.1" stroke="#000" stroke-width="1.65"/>
<line x1="1464.5" y1="1941.9" x2="1464.5" y2="1955.1" stroke="#000" stroke-width="1.65"/>
<line x1="1504.2" y1="1941.9" x2="1504.2" y2="1955.1" stroke="#000" stroke-width="1.65"/>
<line x1="1543.9" y1="1941.9" x2="1543.9" y2="1955.1" stroke="#000" stroke-width="1.65"/>
<line x1="1583.8" y1="1941.9" x2="1583.8" y2="1955.1" stroke="#000" stroke-width="1.65"/>
<line x1="1623.7" y1="1941.9" x2="1623.7" y2="1955.1" stroke="#000" stroke-width="1.65"/>
<line x1="1663.2" y1="1941.9" x2="1663.2" y2="1955.1" stroke="#000" stroke-width="1.65"/>
<line x1="1703.1" y1="1941.9" x2="1703.1" y2="1955.1" stroke="#000" stroke-width="1.65"/>
<line x1="1417.75" y1="1838.77" x2="1417.75" y2="1855.19" stroke="#000" stroke-width="1.59"/>
<line x1="1414.5" y1="1838.77" x2="1421" y2="1838.77" stroke="#000" stroke-width="1.59"/>
<line x1="1414.5" y1="1855.19" x2="1421" y2="1855.19" stroke="#000" stroke-width="1.59"/>
<line x1="1432.34" y1="1797.03" x2="1432.34" y2="1833.52" stroke="#000" stroke-width="1.59"/>
<line x1="1429.09" y1="1797.03" x2="1435.59" y2="1797.03" stroke="#000" stroke-width="1.59"/>
<line x1="1429.09" y1="1833.52" x2="1435.59" y2="1833.52" stroke="#000" stroke-width="1.59"/>
<line x1="1457.66" y1="1794.06" x2="1457.66" y2="1872.98" stroke="#000" stroke-width="1.59"/>
<line x1="1454.41" y1="1794.06" x2="1460.91" y2="1794.06" stroke="#000" stroke-width="1.59"/>
<line x1="1454.41" y1="1872.98" x2="1460.91" y2="1872.98" stroke="#000" stroke-width="1.59"/>
<line x1="1472.26" y1="1826.68" x2="1472.26" y2="1840.36" stroke="#000" stroke-width="1.59"/>
<line x1="1469.01" y1="1826.68" x2="1475.51" y2="1826.68" stroke="#000" stroke-width="1.59"/>
<line x1="1469.01" y1="1840.36" x2="1475.51" y2="1840.36" stroke="#000" stroke-width="1.59"/>
<line x1="1576.96" y1="1909.94" x2="1576.96" y2="1921.34" stroke="#000" stroke-width="1.59"/>
<line x1="1573.71" y1="1909.94" x2="1580.21" y2="1909.94" stroke="#000" stroke-width="1.59"/>
<line x1="1573.71" y1="1921.34" x2="1580.21" y2="1921.34" stroke="#000" stroke-width="1.59"/>
<line x1="1591.79" y1="1910.39" x2="1591.79" y2="1925.9" stroke="#000" stroke-width="1.59"/>
<line x1="1588.54" y1="1910.39" x2="1595.04" y2="1910.39" stroke="#000" stroke-width="1.59"/>
<line x1="1588.54" y1="1925.9" x2="1595.04" y2="1925.9" stroke="#000" stroke-width="1.59"/>
<line x1="1656.34" y1="1838.77" x2="1656.34" y2="1867.74" stroke="#000" stroke-width="1.59"/>
<line x1="1653.09" y1="1838.77" x2="1659.59" y2="1838.77" stroke="#000" stroke-width="1.59"/>
<line x1="1653.09" y1="1867.74" x2="1659.59" y2="1867.74" stroke="#000" stroke-width="1.59"/>
<line x1="1671.17" y1="1841.51" x2="1671.17" y2="1879.14" stroke="#000" stroke-width="1.59"/>
<line x1="1667.92" y1="1841.51" x2="1674.42" y2="1841.51" stroke="#000" stroke-width="1.59"/>
<line x1="1667.92" y1="1879.14" x2="1674.42" y2="1879.14" stroke="#000" stroke-width="1.59"/>
<line x1="1696.26" y1="1818.24" x2="1696.26" y2="1849.49" stroke="#000" stroke-width="1.59"/>
<line x1="1693.01" y1="1818.24" x2="1699.51" y2="1818.24" stroke="#000" stroke-width="1.59"/>
<line x1="1693.01" y1="1849.49" x2="1699.51" y2="1849.49" stroke="#000" stroke-width="1.59"/>
<line x1="1711.09" y1="1831.24" x2="1711.09" y2="1844.93" stroke="#000" stroke-width="1.59"/>
<line x1="1707.84" y1="1831.24" x2="1714.34" y2="1831.24" stroke="#000" stroke-width="1.59"/>
<line x1="1707.84" y1="1844.93" x2="1714.34" y2="1844.93" stroke="#000" stroke-width="1.59"/>
<line x1="1378.06" y1="1923.17" x2="1378.06" y2="1929.78" stroke="#000" stroke-width="1.59"/>
<line x1="1374.81" y1="1923.17" x2="1381.31" y2="1923.17" stroke="#000" stroke-width="1.59"/>
<line x1="1374.81" y1="1929.78" x2="1381.31" y2="1929.78" stroke="#000" stroke-width="1.59"/>
<line x1="1511.95" y1="1922.48" x2="1511.95" y2="1930.69" stroke="#000" stroke-width="1.59"/>
<line x1="1508.7" y1="1922.48" x2="1515.2" y2="1922.48" stroke="#000" stroke-width="1.59"/>
<line x1="1508.7" y1="1930.69" x2="1515.2" y2="1930.69" stroke="#000" stroke-width="1.59"/>
<line x1="1551.87" y1="1895.11" x2="1551.87" y2="1901.04" stroke="#000" stroke-width="1.59"/>
<line x1="1548.62" y1="1895.11" x2="1555.12" y2="1895.11" stroke="#000" stroke-width="1.59"/>
<line x1="1548.62" y1="1901.04" x2="1555.12" y2="1901.04" stroke="#000" stroke-width="1.59"/>
<circle cx="1375.09" cy="1923.17" r="3.2" fill="#000"/>
<circle cx="1380.34" cy="1926.59" r="3.2" fill="#000"/>
<circle cx="1375.55" cy="1929.32" r="3.2" fill="#000"/>
<circle cx="1389.92" cy="1928.18" r="3.2" fill="#000"/>
<circle cx="1393.34" cy="1925.45" r="3.2" fill="#000"/>
<circle cx="1395.62" cy="1927.04" r="3.2" fill="#000"/>
<circle cx="1417.29" cy="1838.77" r="3.2" fill="#000"/>
<circle cx="1416.15" cy="1849.49" r="3.2" fill="#000"/>
<circle cx="1417.29" cy="1855.19" r="3.2" fill="#000"/>
<circle cx="1432.12" cy="1799.31" r="3.2" fill="#000"/>
<circle cx="1432.12" cy="1809.11" r="3.2" fill="#000"/>
<circle cx="1432.12" cy="1833.07" r="3.2" fill="#000"/>
<circle cx="1457.21" cy="1794.06" r="3.2" fill="#000"/>
<circle cx="1457.21" cy="1844.24" r="3.2" fill="#000"/>
<circle cx="1457.21" cy="1868.42" r="3.2" fill="#000"/>
<circle cx="1469.75" cy="1827.82" r="3.2" fill="#000"/>
<circle cx="1475" cy="1828.96" r="3.2" fill="#000"/>
<circle cx="1472.03" cy="1839.22" r="3.2" fill="#000"/>
<circle cx="1494.39" cy="1929.32" r="3.2" fill="#000"/>
<circle cx="1497.81" cy="1927.04" r="3.2" fill="#000"/>
<circle cx="1500.09" cy="1926.59" r="3.2" fill="#000"/>
<circle cx="1511.95" cy="1922.48" r="3.2" fill="#000"/>
<circle cx="1514.69" cy="1928.87" r="3.2" fill="#000"/>
<circle cx="1509.22" cy="1930.47" r="3.2" fill="#000"/>
<circle cx="1534.31" cy="1916.32" r="3.2" fill="#000"/>
<circle cx="1539.32" cy="1916.32" r="3.2" fill="#000"/>
<circle cx="1536.59" cy="1920.89" r="3.2" fill="#000"/>
<circle cx="1549.13" cy="1895.11" r="3.2" fill="#000"/>
<circle cx="1554.84" cy="1899.22" r="3.2" fill="#000"/>
<circle cx="1550.27" cy="1900.81" r="3.2" fill="#000"/>
<circle cx="1576.51" cy="1909.94" r="3.2" fill="#000"/>
<circle cx="1576.51" cy="1916.32" r="3.2" fill="#000"/>
<circle cx="1576.51" cy="1921.34" r="3.2" fill="#000"/>
<circle cx="1591.33" cy="1910.39" r="3.2" fill="#000"/>
<circle cx="1591.33" cy="1922.48" r="3.2" fill="#000"/>
<circle cx="1591.33" cy="1925.9" r="3.2" fill="#000"/>
<circle cx="1614.14" cy="1929.32" r="3.2" fill="#000"/>
<circle cx="1616.42" cy="1927.73" r="3.2" fill="#000"/>
<circle cx="1619.16" cy="1929.32" r="3.2" fill="#000"/>
<circle cx="1628.74" cy="1927.04" r="3.2" fill="#000"/>
<circle cx="1631.48" cy="1924.31" r="3.2" fill="#000"/>
<circle cx="1634.22" cy="1927.04" r="3.2" fill="#000"/>
<circle cx="1656.34" cy="1838.77" r="3.2" fill="#000"/>
<circle cx="1656.34" cy="1856.33" r="3.2" fill="#000"/>
<circle cx="1656.34" cy="1867.28" r="3.2" fill="#000"/>
<circle cx="1671.17" cy="1843.33" r="3.2" fill="#000"/>
<circle cx="1671.17" cy="1854.05" r="3.2" fill="#000"/>
<circle cx="1671.17" cy="1878.69" r="3.2" fill="#000"/>
<circle cx="1696.26" cy="1818.24" r="3.2" fill="#000"/>
<circle cx="1696.26" cy="1831.24" r="3.2" fill="#000"/>
<circle cx="1696.26" cy="1849.03" r="3.2" fill="#000"/>
<circle cx="1710.86" cy="1831.24" r="3.2" fill="#000"/>
<circle cx="1710.86" cy="1838.77" r="3.2" fill="#000"/>
<circle cx="1710.86" cy="1843.79" r="3.2" fill="#000"/>
<line x1="1355.4" y1="1777.2" x2="1368.2" y2="1777.2" stroke="#000" stroke-width="1.65"/>
<text x="1349.2" y="1786.1" font-size="25" text-anchor="end">15</text>
<line x1="1355.4" y1="1832.4" x2="1368.2" y2="1832.4" stroke="#000" stroke-width="1.65"/>
<text x="1349.2" y="1841.3" font-size="25" text-anchor="end">10</text>
<line x1="1355.4" y1="1887.1" x2="1368.2" y2="1887.1" stroke="#000" stroke-width="1.65"/>
<text x="1349.2" y="1896" font-size="25" text-anchor="end">5</text>
<line x1="1355.4" y1="1941.9" x2="1368.2" y2="1941.9" stroke="#000" stroke-width="1.65"/>
<text x="1349.2" y="1950.8" font-size="25" text-anchor="end">0</text>
<text font-size="26" text-anchor="middle" transform="translate(1301.2 1901) rotate(-90)">Lipid peroxidation (AU)</text>
<text font-size="26.5" text-anchor="end" transform="translate(1393.7 1979.3) rotate(-45)">Ctrl</text>
<text font-size="26.5" text-anchor="end" transform="translate(1433.6 1979.3) rotate(-45)">4HNE+RSL3</text>
<text font-size="26.5" text-anchor="end" transform="translate(1473.5 1979.3) rotate(-45)">4HNE+Erastin</text>
<text font-size="26.5" text-anchor="end" transform="translate(1513.2 1979.3) rotate(-45)">Ctrl</text>
<text font-size="26.5" text-anchor="end" transform="translate(1552.9 1979.3) rotate(-45)">4HNE+RSL3</text>
<text font-size="26.5" text-anchor="end" transform="translate(1592.8 1979.3) rotate(-45)">4HNE+Erastin</text>
<text font-size="26.5" text-anchor="end" transform="translate(1632.7 1979.3) rotate(-45)">Ctrl</text>
<text font-size="26.5" text-anchor="end" transform="translate(1672.2 1979.3) rotate(-45)">4HNE+RSL3</text>
<text font-size="26.5" text-anchor="end" transform="translate(1712.1 1979.3) rotate(-45)">4HNE+Erastin</text>
<line x1="1373" y1="2104.5" x2="1472.4" y2="2104.5" stroke="#000" stroke-width="1.65"/>
<line x1="1494.2" y1="2104.5" x2="1594.2" y2="2104.5" stroke="#000" stroke-width="1.65"/>
<line x1="1616.3" y1="2104.5" x2="1716" y2="2104.5" stroke="#000" stroke-width="1.65"/>
<text x="1420.5" y="2133" font-size="26" text-anchor="middle">Ctrl si</text>
<text x="1547.5" y="2133" font-size="26" text-anchor="middle">NOX1 si</text>
<text x="1662.5" y="2131.5" font-size="26" text-anchor="middle">CYBB si</text>
</g>
</svg>
</body></html>
